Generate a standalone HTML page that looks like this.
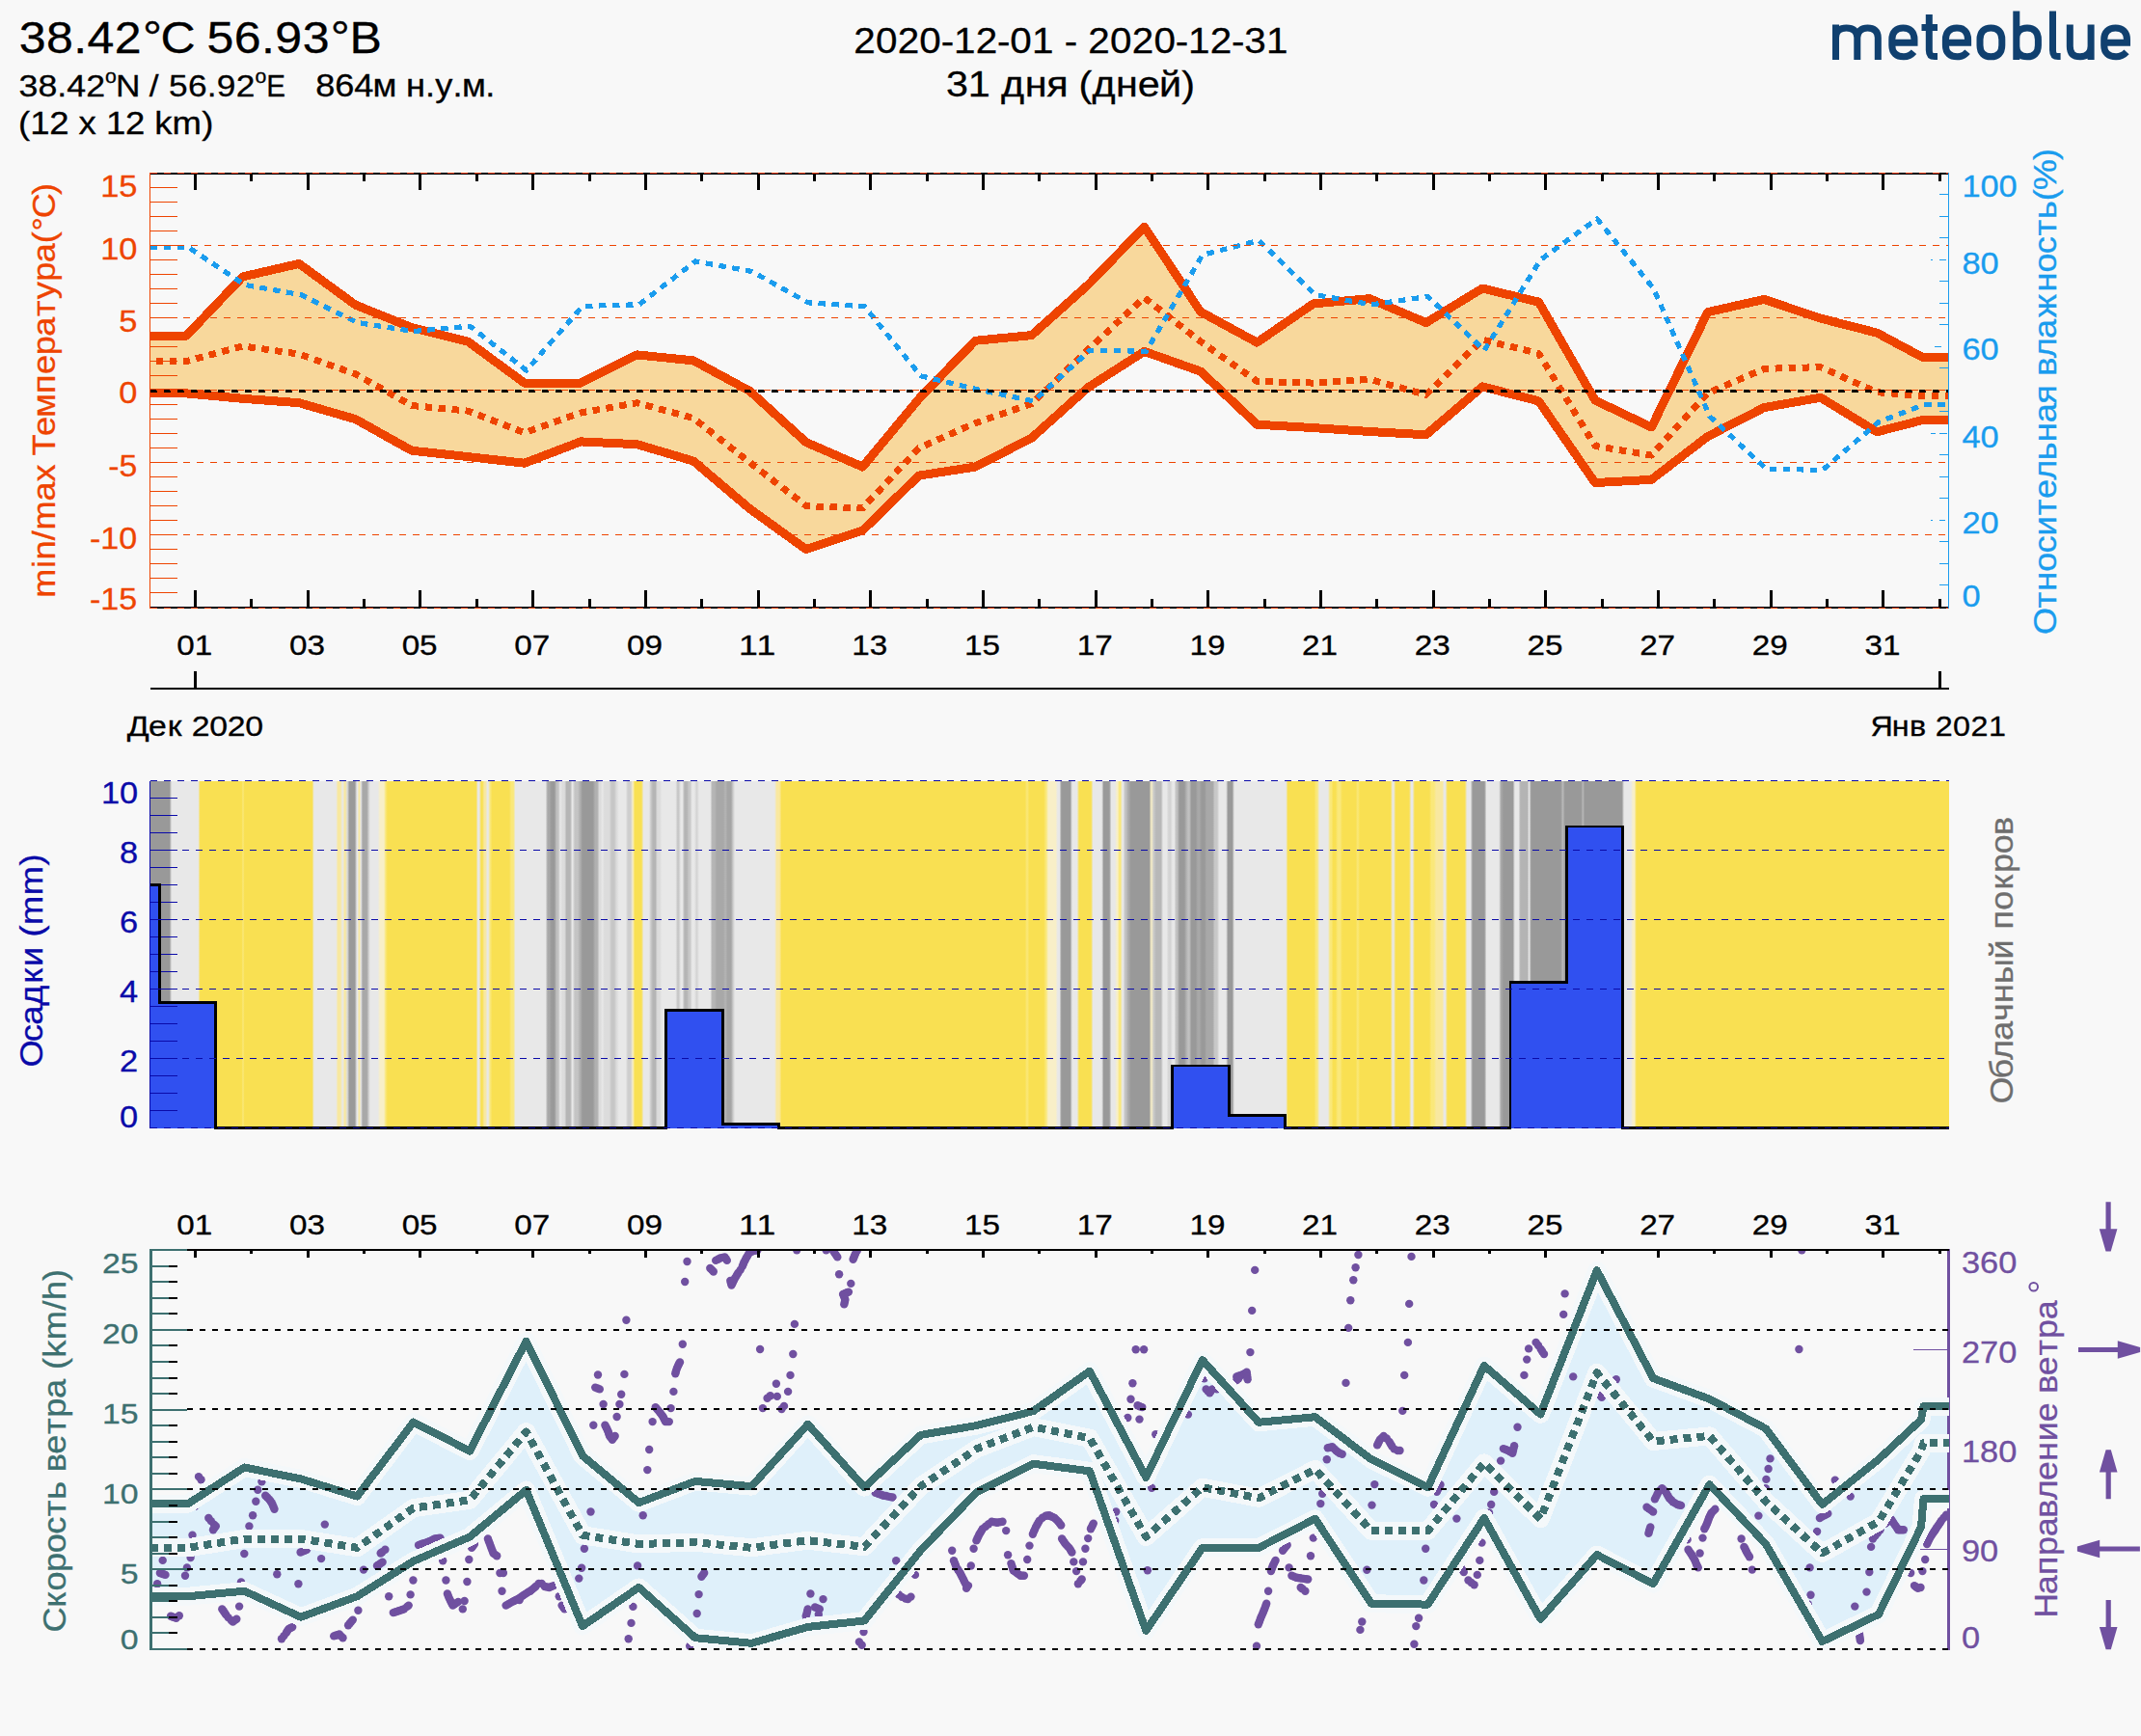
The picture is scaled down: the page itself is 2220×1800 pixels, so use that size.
<!DOCTYPE html>
<html><head><meta charset="utf-8"><title>meteoblue</title><style>html,body{margin:0;padding:0;background:#f8f8f8;}svg{display:block}svg text{font-family:"Liberation Sans",sans-serif}</style></head><body>
<svg width="2220" height="1800" viewBox="0 0 2220 1800" font-family="Liberation Sans, sans-serif" shape-rendering="crispEdges">
<rect width="2220" height="1800" fill="#f8f8f8"/>
<defs>
<clipPath id="c1"><rect x="155.5" y="179.7" width="1865.0" height="449.90000000000003"/></clipPath>
</defs>
<text transform="translate(19.5 55.2) scale(1.1032 1)" x="0.18 25.84 51.42 64.33 90.00 116.47 133.30 163.90 176.82 202.48 228.06 240.97 266.63 293.10 310.95" y="0" font-size="45.39" fill="#000" stroke="#000" stroke-width="0.3" xml:space="preserve">38.42°C 56.93°B</text>
<text transform="translate(19.5 99.8) scale(1.1188 1)" x="-0.00 17.80 35.59 44.49 62.28" y="0" font-size="31.93" fill="#000" stroke="#000" stroke-width="0.3" xml:space="preserve">38.42</text>
<text transform="translate(109.1 86.3) scale(1.0411 1)" x="0.00" y="0" font-size="20.38" fill="#000" stroke="#000" stroke-width="0.3" xml:space="preserve">o</text>
<text transform="translate(121.0 99.8) scale(1.1046 1)" x="-0.96 21.25 30.53 39.80 48.87 66.89 84.86 93.92 111.95" y="0" font-size="31.93" fill="#000" stroke="#000" stroke-width="0.3" xml:space="preserve">N / 56.92</text>
<text transform="translate(264.4 86.3) scale(1.0411 1)" x="0.00" y="0" font-size="20.38" fill="#000" stroke="#000" stroke-width="0.3" xml:space="preserve">o</text>
<text transform="translate(276.3 99.8) scale(0.9264 1)" x="0.00" y="0" font-size="31.93" fill="#000" stroke="#000" stroke-width="0.3" xml:space="preserve">E</text>
<text transform="translate(297.6 99.8) scale(1.1165 1)" x="-0.06 8.85 17.76 26.61 44.44 62.28 79.63 101.31 110.47 128.55 137.69 154.05 162.42 184.10" y="0" font-size="32.40" fill="#000" stroke="#000" stroke-width="0.3" xml:space="preserve">   864м н.у.м.</text>
<text transform="translate(19.0 138.7) scale(1.1204 1)" x="0.07 10.88 28.77 46.70 55.88 72.28 81.17 99.06 116.99 125.99 142.41 169.72" y="0" font-size="32.60" fill="#000" stroke="#000" stroke-width="0.3" xml:space="preserve">(12 x 12 km)</text>
<text transform="translate(1110.4 54.7) scale(1.1101 1)" x="-202.86 -182.39 -161.93 -141.47 -121.36 -109.40 -88.94 -68.83 -56.87 -36.41 -15.98 -6.08 5.84 16.11 36.57 57.03 77.49 97.60 109.56 130.02 150.13 162.09 182.56" y="0" font-size="36.41" fill="#000" stroke="#000" stroke-width="0.3" xml:space="preserve">2020-12-01 - 2020-12-31</text>
<text transform="translate(1110.1 99.5) scale(1.1208 1)" x="-115.18 -94.97 -74.70 -64.29 -42.36 -22.22 -2.78 7.45 20.02 41.96 62.04 82.09 102.75" y="0" font-size="36.85" fill="#000" stroke="#000" stroke-width="0.3" xml:space="preserve">31 дня (дней)</text>
<g fill="none" stroke="#10406f" stroke-width="7" shape-rendering="geometricPrecision" stroke-linejoin="miter">
<path d="M1903.5 62 V25.5 M1903.5 39 C1903.5 32 1908 28.9 1914.5 28.9 C1921.5 28.9 1925.8 32 1925.8 39 V62 M1925.8 39 C1926 32 1930.5 28.9 1936.5 28.9 C1943 28.9 1947.3 32 1947.3 39 V62"/>
<path d="M1961.8000000000002 44.3 H1985.0 V41 C1985.0 33 1980.4 28.9 1973.4 28.9 C1966.4 28.9 1961.8000000000002 33 1961.8000000000002 41 V47 C1961.8000000000002 55 1966.4 58.8 1973.9 58.8 C1978.4 58.8 1981.4 57.6 1984.5 53.8"/>
<path d="M2000.3 15 V52 C2000.3 57 2002.5 58.6 2006 58.6 H2009 M1992.5 28.6 H2009"/>
<path d="M2017.4 44.3 H2040.6 V41 C2040.6 33 2036.0 28.9 2029.0 28.9 C2022.0 28.9 2017.4 33 2017.4 41 V47 C2017.4 55 2022.0 58.8 2029.5 58.8 C2034.0 58.8 2037.0 57.6 2040.1 53.8"/>
<path d="M2064.4 28.9 C2071.4 28.9 2075.8 33 2075.8 41 V47 C2075.8 55 2071.4 58.8 2064.4 58.8 C2057.4 58.8 2053.0 55 2053.0 47 V41 C2053.0 33 2057.4 28.9 2064.4 28.9 Z"/>
<path d="M2090.8 11.6 V62 M2090.8 40 C2090.8 32.5 2095 28.9 2102 28.9 C2109 28.9 2113.4 33 2113.4 41 V47 C2113.4 55 2109 58.8 2102 58.8 C2095 58.8 2090.8 55.5 2090.8 48"/>
<path d="M2128.5 11.6 V52 C2128.5 57 2130.5 58.6 2134 58.6 H2136.6"/>
<path d="M2146.3 25.4 V48 C2146.3 55.5 2150 58.8 2157 58.8 C2164 58.8 2168.1 55 2168.1 48 M2168.1 25.4 V62"/>
<path d="M2181.7 44.3 H2205.5 V41 C2205.5 33 2200.7 28.9 2193.6 28.9 C2186.5 28.9 2181.7 33 2181.7 41 V47 C2181.7 55 2186.5 58.8 2194.1 58.8 C2198.6 58.8 2201.6 57.6 2205.0 53.8"/>
</g>
<g clip-path="url(#c1)">
<polygon points="155.5,348.2 193.2,348.2 251.6,286.9 310.1,273.4 368.5,316.1 426.9,339.7 485.3,354.2 543.8,397.1 602.2,397.1 660.6,367.9 719.1,373.9 777.5,405.5 835.9,458.6 894.4,484.1 952.8,413.6 1011.2,353.3 1069.7,347.6 1128.1,295.4 1186.5,235.1 1244.9,323.3 1303.4,355.1 1361.8,314.9 1420.2,309.7 1478.7,334.6 1537.1,299.0 1595.5,313.1 1654.0,415.1 1712.4,443.0 1770.8,323.6 1829.2,310.4 1887.7,330.1 1946.1,345.1 1993.0,370.2 2020.5,370.2 2020.5,435.7 1993.0,435.7 1946.1,447.8 1887.7,412.2 1829.2,422.6 1770.8,452.5 1712.4,497.3 1654.0,500.6 1595.5,415.9 1537.1,400.9 1478.7,450.8 1420.2,447.5 1361.8,443.6 1303.4,440.2 1244.9,385.1 1186.5,364.4 1128.1,401.8 1069.7,454.1 1011.2,484.1 952.8,493.1 894.4,550.1 835.9,569.6 777.5,527.6 719.1,478.1 660.6,460.7 602.2,457.9 543.8,480.2 485.3,473.6 426.9,467.2 368.5,434.6 310.1,417.7 251.6,413.3 193.2,407.9 155.5,407.9" fill="#f8d89c"/>
</g>
<line x1="155.5" y1="614.5" x2="184.0" y2="614.5" stroke="#ee4400" stroke-width="1"/>
<line x1="155.5" y1="599.5" x2="184.0" y2="599.5" stroke="#ee4400" stroke-width="1"/>
<line x1="155.5" y1="584.5" x2="184.0" y2="584.5" stroke="#ee4400" stroke-width="1"/>
<line x1="155.5" y1="569.5" x2="184.0" y2="569.5" stroke="#ee4400" stroke-width="1"/>
<line x1="155.5" y1="554.5" x2="184.0" y2="554.5" stroke="#ee4400" stroke-width="1"/>
<line x1="155.5" y1="539.5" x2="184.0" y2="539.5" stroke="#ee4400" stroke-width="1"/>
<line x1="155.5" y1="524.5" x2="184.0" y2="524.5" stroke="#ee4400" stroke-width="1"/>
<line x1="155.5" y1="509.5" x2="184.0" y2="509.5" stroke="#ee4400" stroke-width="1"/>
<line x1="155.5" y1="494.5" x2="184.0" y2="494.5" stroke="#ee4400" stroke-width="1"/>
<line x1="155.5" y1="479.5" x2="184.0" y2="479.5" stroke="#ee4400" stroke-width="1"/>
<line x1="155.5" y1="464.5" x2="184.0" y2="464.5" stroke="#ee4400" stroke-width="1"/>
<line x1="155.5" y1="449.5" x2="184.0" y2="449.5" stroke="#ee4400" stroke-width="1"/>
<line x1="155.5" y1="434.5" x2="184.0" y2="434.5" stroke="#ee4400" stroke-width="1"/>
<line x1="155.5" y1="419.5" x2="184.0" y2="419.5" stroke="#ee4400" stroke-width="1"/>
<line x1="155.5" y1="404.5" x2="184.0" y2="404.5" stroke="#ee4400" stroke-width="1"/>
<line x1="155.5" y1="389.5" x2="184.0" y2="389.5" stroke="#ee4400" stroke-width="1"/>
<line x1="155.5" y1="374.5" x2="184.0" y2="374.5" stroke="#ee4400" stroke-width="1"/>
<line x1="155.5" y1="359.5" x2="184.0" y2="359.5" stroke="#ee4400" stroke-width="1"/>
<line x1="155.5" y1="344.5" x2="184.0" y2="344.5" stroke="#ee4400" stroke-width="1"/>
<line x1="155.5" y1="329.5" x2="184.0" y2="329.5" stroke="#ee4400" stroke-width="1"/>
<line x1="155.5" y1="314.5" x2="184.0" y2="314.5" stroke="#ee4400" stroke-width="1"/>
<line x1="155.5" y1="299.5" x2="184.0" y2="299.5" stroke="#ee4400" stroke-width="1"/>
<line x1="155.5" y1="284.5" x2="184.0" y2="284.5" stroke="#ee4400" stroke-width="1"/>
<line x1="155.5" y1="269.5" x2="184.0" y2="269.5" stroke="#ee4400" stroke-width="1"/>
<line x1="155.5" y1="254.5" x2="184.0" y2="254.5" stroke="#ee4400" stroke-width="1"/>
<line x1="155.5" y1="239.5" x2="184.0" y2="239.5" stroke="#ee4400" stroke-width="1"/>
<line x1="155.5" y1="224.5" x2="184.0" y2="224.5" stroke="#ee4400" stroke-width="1"/>
<line x1="155.5" y1="209.5" x2="184.0" y2="209.5" stroke="#ee4400" stroke-width="1"/>
<line x1="155.5" y1="194.5" x2="184.0" y2="194.5" stroke="#ee4400" stroke-width="1"/>
<line x1="2011.0" y1="606.5" x2="2020.5" y2="606.5" stroke="#1a9cee" stroke-width="1.5"/>
<line x1="2011.0" y1="584.5" x2="2020.5" y2="584.5" stroke="#1a9cee" stroke-width="1.5"/>
<line x1="2011.0" y1="561.5" x2="2020.5" y2="561.5" stroke="#1a9cee" stroke-width="1.5"/>
<line x1="2002.0" y1="539.5" x2="2003.6" y2="539.5" stroke="#1a9cee" stroke-width="1.5"/>
<line x1="2011.1" y1="539.5" x2="2016.7" y2="539.5" stroke="#1a9cee" stroke-width="1.5"/>
<line x1="2011.0" y1="516.5" x2="2020.5" y2="516.5" stroke="#1a9cee" stroke-width="1.5"/>
<line x1="2011.0" y1="494.5" x2="2020.5" y2="494.5" stroke="#1a9cee" stroke-width="1.5"/>
<line x1="2011.0" y1="471.5" x2="2020.5" y2="471.5" stroke="#1a9cee" stroke-width="1.5"/>
<line x1="2002.4" y1="449.5" x2="2007.1" y2="449.5" stroke="#1a9cee" stroke-width="1.5"/>
<line x1="2010.8" y1="449.5" x2="2019.3" y2="449.5" stroke="#1a9cee" stroke-width="1.5"/>
<line x1="2011.0" y1="426.5" x2="2020.5" y2="426.5" stroke="#1a9cee" stroke-width="1.5"/>
<line x1="2011.0" y1="404.5" x2="2020.5" y2="404.5" stroke="#1a9cee" stroke-width="1.5"/>
<line x1="2011.0" y1="381.5" x2="2020.5" y2="381.5" stroke="#1a9cee" stroke-width="1.5"/>
<line x1="2006.2" y1="359.5" x2="2012.7" y2="359.5" stroke="#1a9cee" stroke-width="1.5"/>
<line x1="2011.0" y1="336.5" x2="2020.5" y2="336.5" stroke="#1a9cee" stroke-width="1.5"/>
<line x1="2011.0" y1="314.5" x2="2020.5" y2="314.5" stroke="#1a9cee" stroke-width="1.5"/>
<line x1="2011.0" y1="291.5" x2="2020.5" y2="291.5" stroke="#1a9cee" stroke-width="1.5"/>
<line x1="2002.0" y1="269.5" x2="2003.6" y2="269.5" stroke="#1a9cee" stroke-width="1.5"/>
<line x1="2010.8" y1="269.5" x2="2018.3" y2="269.5" stroke="#1a9cee" stroke-width="1.5"/>
<line x1="2011.0" y1="246.5" x2="2020.5" y2="246.5" stroke="#1a9cee" stroke-width="1.5"/>
<line x1="2011.0" y1="224.5" x2="2020.5" y2="224.5" stroke="#1a9cee" stroke-width="1.5"/>
<line x1="2011.0" y1="201.5" x2="2020.5" y2="201.5" stroke="#1a9cee" stroke-width="1.5"/>
<g clip-path="url(#c1)" fill="none" stroke-linejoin="round">
<polyline points="155.5,348.2 193.2,348.2 251.6,286.9 310.1,273.4 368.5,316.1 426.9,339.7 485.3,354.2 543.8,397.1 602.2,397.1 660.6,367.9 719.1,373.9 777.5,405.5 835.9,458.6 894.4,484.1 952.8,413.6 1011.2,353.3 1069.7,347.6 1128.1,295.4 1186.5,235.1 1244.9,323.3 1303.4,355.1 1361.8,314.9 1420.2,309.7 1478.7,334.6 1537.1,299.0 1595.5,313.1 1654.0,415.1 1712.4,443.0 1770.8,323.6 1829.2,310.4 1887.7,330.1 1946.1,345.1 1993.0,370.2 2020.5,370.2" stroke="#ee4400" stroke-width="9"/>
<polyline points="155.5,407.9 193.2,407.9 251.6,413.3 310.1,417.7 368.5,434.6 426.9,467.2 485.3,473.6 543.8,480.2 602.2,457.9 660.6,460.7 719.1,478.1 777.5,527.6 835.9,569.6 894.4,550.1 952.8,493.1 1011.2,484.1 1069.7,454.1 1128.1,401.8 1186.5,364.4 1244.9,385.1 1303.4,440.2 1361.8,443.6 1420.2,447.5 1478.7,450.8 1537.1,400.9 1595.5,415.9 1654.0,500.6 1712.4,497.3 1770.8,452.5 1829.2,422.6 1887.7,412.2 1946.1,447.8 1993.0,435.7 2020.5,435.7" stroke="#ee4400" stroke-width="9"/>
<polyline points="155.5,374.6 193.2,374.6 251.6,358.9 310.1,367.1 368.5,387.8 426.9,420.5 485.3,426.1 543.8,448.6 602.2,428.0 660.6,417.7 719.1,433.6 777.5,479.6 835.9,524.6 894.4,526.9 952.8,464.6 1011.2,438.7 1069.7,418.6 1128.1,362.6 1186.5,308.6 1244.9,354.2 1303.4,395.3 1361.8,397.1 1420.2,393.4 1478.7,409.2 1537.1,352.2 1595.5,366.4 1654.0,462.4 1712.4,472.1 1770.8,407.6 1829.2,382.4 1887.7,380.6 1946.1,406.7 1993.0,410.5 2020.5,410.5" stroke="#ee4400" stroke-width="7" stroke-dasharray="7.5 6.5" stroke-dashoffset="-6"/>
<polyline points="155.5,256.2 195.2,256.2 253.6,295.3 312.1,305.7 370.5,334.5 428.9,343.5 487.3,338.1 545.8,384.0 604.2,317.4 662.6,315.8 721.1,271.0 779.5,281.4 837.9,313.8 896.4,317.8 954.8,389.8 1013.2,403.8 1071.7,415.9 1130.1,363.3 1188.5,364.2 1246.9,264.3 1305.4,249.4 1363.8,305.7 1422.2,315.8 1480.7,307.5 1539.1,363.3 1597.5,269.2 1656.0,226.9 1714.4,298.9 1772.8,431.6 1831.2,486.1 1889.7,487.4 1948.1,437.5 1995.0,419.5 2020.5,419.5" stroke="#1a9cee" stroke-width="5.2" stroke-dasharray="7.5 6.5"/>
</g>
<line x1="155.5" y1="405.5" x2="2020.5" y2="405.5" stroke="#000" stroke-width="3" stroke-dasharray="7.5 6.5"/>
<line x1="155.5" y1="179.7" x2="2020.5" y2="179.7" stroke="#000" stroke-width="2"/>
<line x1="155.5" y1="629.6" x2="2020.5" y2="629.6" stroke="#000" stroke-width="2"/>
<line x1="155.5" y1="179.2" x2="2020.5" y2="179.2" stroke="#ee4400" stroke-width="1" stroke-dasharray="7 7"/>
<line x1="155.5" y1="254.5" x2="2020.5" y2="254.5" stroke="#ee4400" stroke-width="1" stroke-dasharray="7 7"/>
<line x1="161.5" y1="329.5" x2="2020.5" y2="329.5" stroke="#ee4400" stroke-width="1" stroke-dasharray="7 7"/>
<line x1="161.5" y1="404.5" x2="2020.5" y2="404.5" stroke="#ee4400" stroke-width="1" stroke-dasharray="7 7"/>
<line x1="161.5" y1="479.5" x2="2020.5" y2="479.5" stroke="#ee4400" stroke-width="1" stroke-dasharray="7 7"/>
<line x1="161.5" y1="554.5" x2="2020.5" y2="554.5" stroke="#ee4400" stroke-width="1" stroke-dasharray="7 7"/>
<line x1="155.5" y1="630.1" x2="2020.5" y2="630.1" stroke="#ee4400" stroke-width="1" stroke-dasharray="7 7"/>
<line x1="155.5" y1="178.7" x2="155.5" y2="630.6" stroke="#ee4400" stroke-width="1.2"/>
<line x1="2020.5" y1="178.7" x2="2020.5" y2="630.6" stroke="#1a9cee" stroke-width="1.6"/>
<line x1="202.6" y1="179.7" x2="202.6" y2="197.2" stroke="#000" stroke-width="3"/>
<line x1="202.6" y1="629.6" x2="202.6" y2="612.1" stroke="#000" stroke-width="3"/>
<line x1="260.9" y1="179.7" x2="260.9" y2="188.2" stroke="#000" stroke-width="3"/>
<line x1="260.9" y1="629.6" x2="260.9" y2="621.1" stroke="#000" stroke-width="3"/>
<line x1="319.3" y1="179.7" x2="319.3" y2="197.2" stroke="#000" stroke-width="3"/>
<line x1="319.3" y1="629.6" x2="319.3" y2="612.1" stroke="#000" stroke-width="3"/>
<line x1="377.6" y1="179.7" x2="377.6" y2="188.2" stroke="#000" stroke-width="3"/>
<line x1="377.6" y1="629.6" x2="377.6" y2="621.1" stroke="#000" stroke-width="3"/>
<line x1="435.9" y1="179.7" x2="435.9" y2="197.2" stroke="#000" stroke-width="3"/>
<line x1="435.9" y1="629.6" x2="435.9" y2="612.1" stroke="#000" stroke-width="3"/>
<line x1="494.3" y1="179.7" x2="494.3" y2="188.2" stroke="#000" stroke-width="3"/>
<line x1="494.3" y1="629.6" x2="494.3" y2="621.1" stroke="#000" stroke-width="3"/>
<line x1="552.6" y1="179.7" x2="552.6" y2="197.2" stroke="#000" stroke-width="3"/>
<line x1="552.6" y1="629.6" x2="552.6" y2="612.1" stroke="#000" stroke-width="3"/>
<line x1="611.0" y1="179.7" x2="611.0" y2="188.2" stroke="#000" stroke-width="3"/>
<line x1="611.0" y1="629.6" x2="611.0" y2="621.1" stroke="#000" stroke-width="3"/>
<line x1="669.3" y1="179.7" x2="669.3" y2="197.2" stroke="#000" stroke-width="3"/>
<line x1="669.3" y1="629.6" x2="669.3" y2="612.1" stroke="#000" stroke-width="3"/>
<line x1="727.6" y1="179.7" x2="727.6" y2="188.2" stroke="#000" stroke-width="3"/>
<line x1="727.6" y1="629.6" x2="727.6" y2="621.1" stroke="#000" stroke-width="3"/>
<line x1="786.0" y1="179.7" x2="786.0" y2="197.2" stroke="#000" stroke-width="3"/>
<line x1="786.0" y1="629.6" x2="786.0" y2="612.1" stroke="#000" stroke-width="3"/>
<line x1="844.3" y1="179.7" x2="844.3" y2="188.2" stroke="#000" stroke-width="3"/>
<line x1="844.3" y1="629.6" x2="844.3" y2="621.1" stroke="#000" stroke-width="3"/>
<line x1="902.6" y1="179.7" x2="902.6" y2="197.2" stroke="#000" stroke-width="3"/>
<line x1="902.6" y1="629.6" x2="902.6" y2="612.1" stroke="#000" stroke-width="3"/>
<line x1="961.0" y1="179.7" x2="961.0" y2="188.2" stroke="#000" stroke-width="3"/>
<line x1="961.0" y1="629.6" x2="961.0" y2="621.1" stroke="#000" stroke-width="3"/>
<line x1="1019.3" y1="179.7" x2="1019.3" y2="197.2" stroke="#000" stroke-width="3"/>
<line x1="1019.3" y1="629.6" x2="1019.3" y2="612.1" stroke="#000" stroke-width="3"/>
<line x1="1077.7" y1="179.7" x2="1077.7" y2="188.2" stroke="#000" stroke-width="3"/>
<line x1="1077.7" y1="629.6" x2="1077.7" y2="621.1" stroke="#000" stroke-width="3"/>
<line x1="1136.0" y1="179.7" x2="1136.0" y2="197.2" stroke="#000" stroke-width="3"/>
<line x1="1136.0" y1="629.6" x2="1136.0" y2="612.1" stroke="#000" stroke-width="3"/>
<line x1="1194.3" y1="179.7" x2="1194.3" y2="188.2" stroke="#000" stroke-width="3"/>
<line x1="1194.3" y1="629.6" x2="1194.3" y2="621.1" stroke="#000" stroke-width="3"/>
<line x1="1252.7" y1="179.7" x2="1252.7" y2="197.2" stroke="#000" stroke-width="3"/>
<line x1="1252.7" y1="629.6" x2="1252.7" y2="612.1" stroke="#000" stroke-width="3"/>
<line x1="1311.0" y1="179.7" x2="1311.0" y2="188.2" stroke="#000" stroke-width="3"/>
<line x1="1311.0" y1="629.6" x2="1311.0" y2="621.1" stroke="#000" stroke-width="3"/>
<line x1="1369.3" y1="179.7" x2="1369.3" y2="197.2" stroke="#000" stroke-width="3"/>
<line x1="1369.3" y1="629.6" x2="1369.3" y2="612.1" stroke="#000" stroke-width="3"/>
<line x1="1427.7" y1="179.7" x2="1427.7" y2="188.2" stroke="#000" stroke-width="3"/>
<line x1="1427.7" y1="629.6" x2="1427.7" y2="621.1" stroke="#000" stroke-width="3"/>
<line x1="1486.0" y1="179.7" x2="1486.0" y2="197.2" stroke="#000" stroke-width="3"/>
<line x1="1486.0" y1="629.6" x2="1486.0" y2="612.1" stroke="#000" stroke-width="3"/>
<line x1="1544.4" y1="179.7" x2="1544.4" y2="188.2" stroke="#000" stroke-width="3"/>
<line x1="1544.4" y1="629.6" x2="1544.4" y2="621.1" stroke="#000" stroke-width="3"/>
<line x1="1602.7" y1="179.7" x2="1602.7" y2="197.2" stroke="#000" stroke-width="3"/>
<line x1="1602.7" y1="629.6" x2="1602.7" y2="612.1" stroke="#000" stroke-width="3"/>
<line x1="1661.0" y1="179.7" x2="1661.0" y2="188.2" stroke="#000" stroke-width="3"/>
<line x1="1661.0" y1="629.6" x2="1661.0" y2="621.1" stroke="#000" stroke-width="3"/>
<line x1="1719.4" y1="179.7" x2="1719.4" y2="197.2" stroke="#000" stroke-width="3"/>
<line x1="1719.4" y1="629.6" x2="1719.4" y2="612.1" stroke="#000" stroke-width="3"/>
<line x1="1777.7" y1="179.7" x2="1777.7" y2="188.2" stroke="#000" stroke-width="3"/>
<line x1="1777.7" y1="629.6" x2="1777.7" y2="621.1" stroke="#000" stroke-width="3"/>
<line x1="1836.0" y1="179.7" x2="1836.0" y2="197.2" stroke="#000" stroke-width="3"/>
<line x1="1836.0" y1="629.6" x2="1836.0" y2="612.1" stroke="#000" stroke-width="3"/>
<line x1="1894.4" y1="179.7" x2="1894.4" y2="188.2" stroke="#000" stroke-width="3"/>
<line x1="1894.4" y1="629.6" x2="1894.4" y2="621.1" stroke="#000" stroke-width="3"/>
<line x1="1952.7" y1="179.7" x2="1952.7" y2="197.2" stroke="#000" stroke-width="3"/>
<line x1="1952.7" y1="629.6" x2="1952.7" y2="612.1" stroke="#000" stroke-width="3"/>
<line x1="2011.0" y1="179.7" x2="2011.0" y2="188.2" stroke="#000" stroke-width="3"/>
<line x1="2011.0" y1="629.6" x2="2011.0" y2="621.1" stroke="#000" stroke-width="3"/>
<text transform="translate(201.8 679.3) scale(1.1245 1)" x="-16.41 0.00" y="0" font-size="29.58" fill="#000" stroke="#000" stroke-width="0.3" xml:space="preserve">01</text>
<text transform="translate(318.5 679.3) scale(1.1245 1)" x="-16.41 0.00" y="0" font-size="29.58" fill="#000" stroke="#000" stroke-width="0.3" xml:space="preserve">03</text>
<text transform="translate(435.1 679.3) scale(1.1245 1)" x="-16.41 0.00" y="0" font-size="29.58" fill="#000" stroke="#000" stroke-width="0.3" xml:space="preserve">05</text>
<text transform="translate(551.8 679.3) scale(1.1245 1)" x="-16.41 0.00" y="0" font-size="29.58" fill="#000" stroke="#000" stroke-width="0.3" xml:space="preserve">07</text>
<text transform="translate(668.5 679.3) scale(1.1245 1)" x="-16.41 0.00" y="0" font-size="29.58" fill="#000" stroke="#000" stroke-width="0.3" xml:space="preserve">09</text>
<text transform="translate(785.2 679.3) scale(1.2048 1)" x="-15.86 -0.55" y="0" font-size="29.58" fill="#000" stroke="#000" stroke-width="0.3" xml:space="preserve">11</text>
<text transform="translate(901.8 679.3) scale(1.1245 1)" x="-16.41 0.00" y="0" font-size="29.58" fill="#000" stroke="#000" stroke-width="0.3" xml:space="preserve">13</text>
<text transform="translate(1018.5 679.3) scale(1.1245 1)" x="-16.41 0.00" y="0" font-size="29.58" fill="#000" stroke="#000" stroke-width="0.3" xml:space="preserve">15</text>
<text transform="translate(1135.2 679.3) scale(1.1245 1)" x="-16.41 0.00" y="0" font-size="29.58" fill="#000" stroke="#000" stroke-width="0.3" xml:space="preserve">17</text>
<text transform="translate(1251.9 679.3) scale(1.1245 1)" x="-16.41 0.00" y="0" font-size="29.58" fill="#000" stroke="#000" stroke-width="0.3" xml:space="preserve">19</text>
<text transform="translate(1368.5 679.3) scale(1.1245 1)" x="-16.41 0.00" y="0" font-size="29.58" fill="#000" stroke="#000" stroke-width="0.3" xml:space="preserve">21</text>
<text transform="translate(1485.2 679.3) scale(1.1245 1)" x="-16.41 0.00" y="0" font-size="29.58" fill="#000" stroke="#000" stroke-width="0.3" xml:space="preserve">23</text>
<text transform="translate(1601.9 679.3) scale(1.1245 1)" x="-16.41 0.00" y="0" font-size="29.58" fill="#000" stroke="#000" stroke-width="0.3" xml:space="preserve">25</text>
<text transform="translate(1718.6 679.3) scale(1.1245 1)" x="-16.41 0.00" y="0" font-size="29.58" fill="#000" stroke="#000" stroke-width="0.3" xml:space="preserve">27</text>
<text transform="translate(1835.2 679.3) scale(1.1245 1)" x="-16.41 0.00" y="0" font-size="29.58" fill="#000" stroke="#000" stroke-width="0.3" xml:space="preserve">29</text>
<text transform="translate(1951.9 679.3) scale(1.1245 1)" x="-16.41 0.00" y="0" font-size="29.58" fill="#000" stroke="#000" stroke-width="0.3" xml:space="preserve">31</text>
<line x1="155.5" y1="713.5" x2="2020.5" y2="713.5" stroke="#000" stroke-width="2"/>
<line x1="202.6" y1="696" x2="202.6" y2="713.5" stroke="#000" stroke-width="3"/>
<line x1="2011.0" y1="696" x2="2011.0" y2="713.5" stroke="#000" stroke-width="3"/>
<text transform="translate(202.3 762.5) scale(1.1265 1)" x="-62.70 -42.91 -25.43 -11.17 -3.07 13.31 29.69 46.07" y="0" font-size="30.01" fill="#000" stroke="#000" stroke-width="0.3" xml:space="preserve">Дек 2020</text>
<text transform="translate(2010.6 762.5) scale(1.0772 1)" x="-66.10 -45.40 -28.35 -12.34 -3.67 13.46 30.59 47.71" y="0" font-size="30.01" fill="#000" stroke="#000" stroke-width="0.3" xml:space="preserve">Янв 2021</text>
<text transform="translate(142.3 203.9) scale(1.1253 1)" x="-33.92 -16.96" y="0" font-size="30.60" fill="#ee4400" stroke="#ee4400" stroke-width="0.3" xml:space="preserve">15</text>
<text transform="translate(142.3 268.7) scale(1.1253 1)" x="-33.92 -16.96" y="0" font-size="30.60" fill="#ee4400" stroke="#ee4400" stroke-width="0.3" xml:space="preserve">10</text>
<text transform="translate(142.3 343.5) scale(1.1253 1)" x="-16.96" y="0" font-size="30.60" fill="#ee4400" stroke="#ee4400" stroke-width="0.3" xml:space="preserve">5</text>
<text transform="translate(142.3 417.9) scale(1.1253 1)" x="-16.96" y="0" font-size="30.60" fill="#ee4400" stroke="#ee4400" stroke-width="0.3" xml:space="preserve">0</text>
<text transform="translate(142.3 494.2) scale(1.1030 1)" x="-27.29 -17.13" y="0" font-size="30.60" fill="#ee4400" stroke="#ee4400" stroke-width="0.3" xml:space="preserve">-5</text>
<text transform="translate(142.3 568.5) scale(1.1116 1)" x="-44.29 -34.24 -17.07" y="0" font-size="30.60" fill="#ee4400" stroke="#ee4400" stroke-width="0.3" xml:space="preserve">-10</text>
<text transform="translate(142.3 632.4) scale(1.1116 1)" x="-44.29 -34.24 -17.07" y="0" font-size="30.60" fill="#ee4400" stroke="#ee4400" stroke-width="0.3" xml:space="preserve">-15</text>
<text transform="translate(2034.4 204.4) scale(1.1253 1)" x="0.00 16.96 33.92" y="0" font-size="30.60" fill="#1a9cee" stroke="#1a9cee" stroke-width="0.3" xml:space="preserve">100</text>
<text transform="translate(2034.4 283.7) scale(1.1253 1)" x="0.00 16.96" y="0" font-size="30.60" fill="#1a9cee" stroke="#1a9cee" stroke-width="0.3" xml:space="preserve">80</text>
<text transform="translate(2034.4 373.3) scale(1.1253 1)" x="0.00 16.96" y="0" font-size="30.60" fill="#1a9cee" stroke="#1a9cee" stroke-width="0.3" xml:space="preserve">60</text>
<text transform="translate(2034.4 463.5) scale(1.1253 1)" x="0.00 16.96" y="0" font-size="30.60" fill="#1a9cee" stroke="#1a9cee" stroke-width="0.3" xml:space="preserve">40</text>
<text transform="translate(2034.4 553.0) scale(1.1253 1)" x="0.00 16.96" y="0" font-size="30.60" fill="#1a9cee" stroke="#1a9cee" stroke-width="0.3" xml:space="preserve">20</text>
<text transform="translate(2034.4 628.6) scale(1.1253 1)" x="0.00" y="0" font-size="30.60" fill="#1a9cee" stroke="#1a9cee" stroke-width="0.3" xml:space="preserve">0</text>
<text transform="translate(56.5 405.0) rotate(-90) scale(1.1039 1)" x="-194.58 -166.66 -159.08 -140.63 -130.96 -103.72 -85.56 -68.90 -61.06 -42.62 -25.17 -2.62 15.30 33.19 51.05 69.76 85.88 102.51 120.37 138.38 150.02 161.89 183.84" y="0" font-size="32.71" fill="#ee4400" stroke="#ee4400" stroke-width="0.3" xml:space="preserve">min/max Температура(°C)</text>
<text transform="translate(2132.0 405.0) rotate(-90) scale(1.1070 1)" x="-228.53 -203.75 -187.65 -169.65 -152.15 -135.98 -116.75 -101.26 -83.81 -65.25 -48.02 -30.00 -12.43 5.01 13.80 30.48 48.80 68.55 92.65 110.65 128.15 145.00 160.69 177.75 187.77 216.01" y="0" font-size="32.71" fill="#1a9cee" stroke="#1a9cee" stroke-width="0.3" xml:space="preserve">Относительная влажность(%)</text>
<defs><linearGradient id="cl" gradientUnits="userSpaceOnUse" x1="155.5" y1="0" x2="2020.5" y2="0">
<stop offset="0.0000%" stop-color="#999999"/><stop offset="1.0885%" stop-color="#999999"/>
<stop offset="1.2064%" stop-color="#e8e8e8"/><stop offset="2.6756%" stop-color="#e8e8e8"/>
<stop offset="2.7936%" stop-color="#f9e052"/><stop offset="5.0885%" stop-color="#f9e052"/>
<stop offset="5.1743%" stop-color="#fae87a"/><stop offset="5.1743%" stop-color="#fae87a"/>
<stop offset="5.2601%" stop-color="#f9e052"/><stop offset="9.0080%" stop-color="#f9e052"/>
<stop offset="9.1260%" stop-color="#e8e8e8"/><stop offset="10.3378%" stop-color="#e8e8e8"/>
<stop offset="10.4558%" stop-color="#f8e8a0"/><stop offset="10.5845%" stop-color="#f8e8a0"/>
<stop offset="10.7024%" stop-color="#e8e8e8"/><stop offset="10.7131%" stop-color="#e8e8e8"/>
<stop offset="10.8311%" stop-color="#f8e8a0"/><stop offset="10.8525%" stop-color="#f8e8a0"/>
<stop offset="10.9705%" stop-color="#dcdcdc"/><stop offset="10.9705%" stop-color="#dcdcdc"/>
<stop offset="11.0885%" stop-color="#999999"/><stop offset="11.3887%" stop-color="#999999"/>
<stop offset="11.5067%" stop-color="#e8e8e8"/><stop offset="11.5335%" stop-color="#e8e8e8"/>
<stop offset="11.6381%" stop-color="#f8e8a0"/><stop offset="11.6381%" stop-color="#f8e8a0"/>
<stop offset="11.7239%" stop-color="#e8e8e8"/><stop offset="11.7239%" stop-color="#e8e8e8"/>
<stop offset="11.8231%" stop-color="#a8a8a8"/><stop offset="12.0590%" stop-color="#a8a8a8"/>
<stop offset="12.1528%" stop-color="#cccccc"/><stop offset="12.1528%" stop-color="#cccccc"/>
<stop offset="12.2466%" stop-color="#e8e8e8"/><stop offset="12.6756%" stop-color="#e8e8e8"/>
<stop offset="12.7936%" stop-color="#f8efc8"/><stop offset="13.0027%" stop-color="#f8efc8"/>
<stop offset="13.1072%" stop-color="#fae87a"/><stop offset="13.1072%" stop-color="#fae87a"/>
<stop offset="13.2118%" stop-color="#f9e052"/><stop offset="18.1233%" stop-color="#f9e052"/>
<stop offset="18.2413%" stop-color="#e8e8e8"/><stop offset="18.3003%" stop-color="#e8e8e8"/>
<stop offset="18.4182%" stop-color="#f9e052"/><stop offset="18.4718%" stop-color="#f9e052"/>
<stop offset="18.5898%" stop-color="#f8e8a0"/><stop offset="18.6488%" stop-color="#f8e8a0"/>
<stop offset="18.7668%" stop-color="#e8e8e8"/><stop offset="18.8043%" stop-color="#e8e8e8"/>
<stop offset="18.9196%" stop-color="#fae87a"/><stop offset="18.9196%" stop-color="#fae87a"/>
<stop offset="19.0349%" stop-color="#f9e052"/><stop offset="19.9678%" stop-color="#f9e052"/>
<stop offset="20.0858%" stop-color="#fae87a"/><stop offset="20.2038%" stop-color="#fae87a"/>
<stop offset="20.3217%" stop-color="#e8e8e8"/><stop offset="21.9946%" stop-color="#e8e8e8"/>
<stop offset="22.1126%" stop-color="#a8a8a8"/><stop offset="22.2038%" stop-color="#a8a8a8"/>
<stop offset="22.3217%" stop-color="#999999"/><stop offset="22.4879%" stop-color="#999999"/>
<stop offset="22.6059%" stop-color="#c0c0c0"/><stop offset="22.6971%" stop-color="#c0c0c0"/>
<stop offset="22.8097%" stop-color="#e8e8e8"/><stop offset="22.8097%" stop-color="#e8e8e8"/>
<stop offset="22.9223%" stop-color="#dcdcdc"/><stop offset="23.0456%" stop-color="#dcdcdc"/>
<stop offset="23.1635%" stop-color="#b5b5b5"/><stop offset="23.3619%" stop-color="#b5b5b5"/>
<stop offset="23.4799%" stop-color="#e8e8e8"/><stop offset="23.5013%" stop-color="#e8e8e8"/>
<stop offset="23.6193%" stop-color="#c4c4c4"/><stop offset="23.7855%" stop-color="#c4c4c4"/>
<stop offset="23.9035%" stop-color="#b0b0b0"/><stop offset="23.9249%" stop-color="#b0b0b0"/>
<stop offset="24.0429%" stop-color="#999999"/><stop offset="24.6273%" stop-color="#999999"/>
<stop offset="24.7453%" stop-color="#b0b0b0"/><stop offset="24.8686%" stop-color="#b0b0b0"/>
<stop offset="24.9866%" stop-color="#dcdcdc"/><stop offset="25.0456%" stop-color="#dcdcdc"/>
<stop offset="25.1582%" stop-color="#e8e8e8"/><stop offset="25.1582%" stop-color="#e8e8e8"/>
<stop offset="25.2708%" stop-color="#dcdcdc"/><stop offset="25.5389%" stop-color="#dcdcdc"/>
<stop offset="25.6568%" stop-color="#c6c6c6"/><stop offset="25.8177%" stop-color="#c6c6c6"/>
<stop offset="25.9357%" stop-color="#dcdcdc"/><stop offset="25.9571%" stop-color="#dcdcdc"/>
<stop offset="26.0751%" stop-color="#e8e8e8"/><stop offset="26.4504%" stop-color="#e8e8e8"/>
<stop offset="26.5684%" stop-color="#cecece"/><stop offset="26.7292%" stop-color="#cecece"/>
<stop offset="26.8418%" stop-color="#f8efc8"/><stop offset="26.8418%" stop-color="#f8efc8"/>
<stop offset="26.9544%" stop-color="#f9e052"/><stop offset="27.3244%" stop-color="#f9e052"/>
<stop offset="27.4424%" stop-color="#e8e8e8"/><stop offset="27.7480%" stop-color="#e8e8e8"/>
<stop offset="27.8579%" stop-color="#c8c8c8"/><stop offset="27.8579%" stop-color="#c8c8c8"/>
<stop offset="27.9678%" stop-color="#b5b5b5"/><stop offset="28.0965%" stop-color="#b5b5b5"/>
<stop offset="28.2145%" stop-color="#dcdcdc"/><stop offset="28.3432%" stop-color="#dcdcdc"/>
<stop offset="28.4611%" stop-color="#e8e8e8"/><stop offset="29.2172%" stop-color="#e8e8e8"/>
<stop offset="29.3351%" stop-color="#c8c8c8"/><stop offset="29.3941%" stop-color="#c8c8c8"/>
<stop offset="29.5121%" stop-color="#e8e8e8"/><stop offset="29.6032%" stop-color="#e8e8e8"/>
<stop offset="29.7212%" stop-color="#b5b5b5"/><stop offset="29.8499%" stop-color="#b5b5b5"/>
<stop offset="29.9678%" stop-color="#c8c8c8"/><stop offset="30.0268%" stop-color="#c8c8c8"/>
<stop offset="30.1448%" stop-color="#e8e8e8"/><stop offset="30.2681%" stop-color="#e8e8e8"/>
<stop offset="30.3861%" stop-color="#d4d4d4"/><stop offset="30.4129%" stop-color="#d4d4d4"/>
<stop offset="30.5308%" stop-color="#e8e8e8"/><stop offset="31.1475%" stop-color="#e8e8e8"/>
<stop offset="31.2654%" stop-color="#b5b5b5"/><stop offset="31.3941%" stop-color="#b5b5b5"/>
<stop offset="31.5121%" stop-color="#a8a8a8"/><stop offset="31.8820%" stop-color="#a8a8a8"/>
<stop offset="31.9946%" stop-color="#b5b5b5"/><stop offset="31.9946%" stop-color="#b5b5b5"/>
<stop offset="32.1072%" stop-color="#a5a5a5"/><stop offset="32.3056%" stop-color="#a5a5a5"/>
<stop offset="32.4155%" stop-color="#cccccc"/><stop offset="32.4155%" stop-color="#cccccc"/>
<stop offset="32.5255%" stop-color="#e8e8e8"/><stop offset="34.7239%" stop-color="#e8e8e8"/>
<stop offset="34.8418%" stop-color="#fae8a0"/><stop offset="34.9973%" stop-color="#fae8a0"/>
<stop offset="35.1153%" stop-color="#f9e052"/><stop offset="48.6488%" stop-color="#f9e052"/>
<stop offset="48.7668%" stop-color="#fae87a"/><stop offset="48.7721%" stop-color="#fae87a"/>
<stop offset="48.8901%" stop-color="#f9e052"/><stop offset="49.6890%" stop-color="#f9e052"/>
<stop offset="49.8070%" stop-color="#fae87a"/><stop offset="49.8284%" stop-color="#fae87a"/>
<stop offset="49.9464%" stop-color="#f8efc8"/><stop offset="50.3539%" stop-color="#f8efc8"/>
<stop offset="50.4718%" stop-color="#e8e8e8"/><stop offset="50.5630%" stop-color="#e8e8e8"/>
<stop offset="50.6810%" stop-color="#999999"/><stop offset="51.1582%" stop-color="#999999"/>
<stop offset="51.2761%" stop-color="#e8e8e8"/><stop offset="51.5442%" stop-color="#e8e8e8"/>
<stop offset="51.6622%" stop-color="#f9e052"/><stop offset="52.3164%" stop-color="#f9e052"/>
<stop offset="52.4343%" stop-color="#e8e8e8"/><stop offset="52.9115%" stop-color="#e8e8e8"/>
<stop offset="53.0295%" stop-color="#999999"/><stop offset="53.3351%" stop-color="#999999"/>
<stop offset="53.4531%" stop-color="#e8e8e8"/><stop offset="53.6515%" stop-color="#e8e8e8"/>
<stop offset="53.7694%" stop-color="#f8efc8"/><stop offset="53.7909%" stop-color="#f8efc8"/>
<stop offset="53.9088%" stop-color="#fae87a"/><stop offset="53.9464%" stop-color="#fae87a"/>
<stop offset="54.0643%" stop-color="#e8e8e8"/><stop offset="54.1072%" stop-color="#e8e8e8"/>
<stop offset="54.2252%" stop-color="#c0c0c0"/><stop offset="54.2788%" stop-color="#c0c0c0"/>
<stop offset="54.3968%" stop-color="#a8a8a8"/><stop offset="54.4236%" stop-color="#a8a8a8"/>
<stop offset="54.5416%" stop-color="#999999"/><stop offset="55.5550%" stop-color="#999999"/>
<stop offset="55.6729%" stop-color="#f8efc8"/><stop offset="55.6836%" stop-color="#f8efc8"/>
<stop offset="55.8016%" stop-color="#c8c8c8"/><stop offset="55.8231%" stop-color="#c8c8c8"/>
<stop offset="55.9410%" stop-color="#b8b8b8"/><stop offset="56.2091%" stop-color="#b8b8b8"/>
<stop offset="56.3271%" stop-color="#e8e8e8"/><stop offset="56.5255%" stop-color="#e8e8e8"/>
<stop offset="56.6434%" stop-color="#d4d4d4"/><stop offset="56.7346%" stop-color="#d4d4d4"/>
<stop offset="56.8525%" stop-color="#e8e8e8"/><stop offset="56.9437%" stop-color="#e8e8e8"/>
<stop offset="57.0617%" stop-color="#c0c0c0"/><stop offset="57.1206%" stop-color="#c0c0c0"/>
<stop offset="57.2386%" stop-color="#999999"/><stop offset="57.5067%" stop-color="#999999"/>
<stop offset="57.6166%" stop-color="#b0b0b0"/><stop offset="57.6166%" stop-color="#b0b0b0"/>
<stop offset="57.7265%" stop-color="#c0c0c0"/><stop offset="57.7855%" stop-color="#c0c0c0"/>
<stop offset="57.9035%" stop-color="#999999"/><stop offset="58.1394%" stop-color="#999999"/>
<stop offset="58.2574%" stop-color="#a8a8a8"/><stop offset="58.3485%" stop-color="#a8a8a8"/>
<stop offset="58.4665%" stop-color="#999999"/><stop offset="58.6273%" stop-color="#999999"/>
<stop offset="58.7453%" stop-color="#a8a8a8"/><stop offset="59.0831%" stop-color="#a8a8a8"/>
<stop offset="59.2011%" stop-color="#c8c8c8"/><stop offset="59.3298%" stop-color="#c8c8c8"/>
<stop offset="59.4477%" stop-color="#e8e8e8"/><stop offset="59.8231%" stop-color="#e8e8e8"/>
<stop offset="59.9410%" stop-color="#999999"/><stop offset="60.1716%" stop-color="#999999"/>
<stop offset="60.2895%" stop-color="#e8e8e8"/><stop offset="63.1528%" stop-color="#e8e8e8"/>
<stop offset="63.2708%" stop-color="#f9e052"/><stop offset="64.7239%" stop-color="#f9e052"/>
<stop offset="64.8418%" stop-color="#fae87a"/><stop offset="64.9008%" stop-color="#fae87a"/>
<stop offset="65.0188%" stop-color="#e8e8e8"/><stop offset="65.4960%" stop-color="#e8e8e8"/>
<stop offset="65.6139%" stop-color="#fae87a"/><stop offset="65.6729%" stop-color="#fae87a"/>
<stop offset="65.7909%" stop-color="#f9e052"/><stop offset="65.9196%" stop-color="#f9e052"/>
<stop offset="66.0375%" stop-color="#fae87a"/><stop offset="66.1769%" stop-color="#fae87a"/>
<stop offset="66.2949%" stop-color="#f9e052"/><stop offset="67.0402%" stop-color="#f9e052"/>
<stop offset="67.1528%" stop-color="#fae87a"/><stop offset="67.1528%" stop-color="#fae87a"/>
<stop offset="67.2654%" stop-color="#f9e052"/><stop offset="68.9705%" stop-color="#f9e052"/>
<stop offset="69.0885%" stop-color="#e8e8e8"/><stop offset="69.1421%" stop-color="#e8e8e8"/>
<stop offset="69.2601%" stop-color="#f9e052"/><stop offset="70.0054%" stop-color="#f9e052"/>
<stop offset="70.1233%" stop-color="#e8e8e8"/><stop offset="70.1984%" stop-color="#e8e8e8"/>
<stop offset="70.3164%" stop-color="#f9e052"/><stop offset="71.1260%" stop-color="#f9e052"/>
<stop offset="71.2440%" stop-color="#fae87a"/><stop offset="71.3887%" stop-color="#fae87a"/>
<stop offset="71.5067%" stop-color="#f8e8a0"/><stop offset="71.8445%" stop-color="#f8e8a0"/>
<stop offset="71.9625%" stop-color="#e8e8e8"/><stop offset="72.0214%" stop-color="#e8e8e8"/>
<stop offset="72.1394%" stop-color="#f9e052"/><stop offset="73.1046%" stop-color="#f9e052"/>
<stop offset="73.2225%" stop-color="#e8e8e8"/><stop offset="73.4209%" stop-color="#e8e8e8"/>
<stop offset="73.5389%" stop-color="#999999"/><stop offset="74.1930%" stop-color="#999999"/>
<stop offset="74.3110%" stop-color="#e8e8e8"/><stop offset="74.9973%" stop-color="#e8e8e8"/>
<stop offset="75.1153%" stop-color="#a8a8a8"/><stop offset="75.1367%" stop-color="#a8a8a8"/>
<stop offset="75.2547%" stop-color="#999999"/><stop offset="75.7694%" stop-color="#999999"/>
<stop offset="75.8874%" stop-color="#e8e8e8"/><stop offset="76.0858%" stop-color="#e8e8e8"/>
<stop offset="76.2038%" stop-color="#b4b4b4"/><stop offset="76.5791%" stop-color="#b4b4b4"/>
<stop offset="76.6863%" stop-color="#e8e8e8"/><stop offset="76.6863%" stop-color="#e8e8e8"/>
<stop offset="76.7936%" stop-color="#999999"/><stop offset="78.4290%" stop-color="#999999"/>
<stop offset="78.5469%" stop-color="#b8b8b8"/><stop offset="78.5523%" stop-color="#b8b8b8"/>
<stop offset="78.6702%" stop-color="#999999"/><stop offset="79.5657%" stop-color="#999999"/>
<stop offset="79.6649%" stop-color="#b8b8b8"/><stop offset="79.6649%" stop-color="#b8b8b8"/>
<stop offset="79.7641%" stop-color="#999999"/><stop offset="81.8391%" stop-color="#999999"/>
<stop offset="81.9571%" stop-color="#e8e8e8"/><stop offset="82.3378%" stop-color="#e8e8e8"/>
<stop offset="82.4558%" stop-color="#f8efc8"/><stop offset="82.5308%" stop-color="#f8efc8"/>
<stop offset="82.6488%" stop-color="#f9e052"/><stop offset="100.0000%" stop-color="#f9e052"/>
</linearGradient></defs>
<rect x="155.5" y="809.6" width="1865.0" height="360.19999999999993" fill="url(#cl)"/>
<line x1="155.5" y1="809.6" x2="155.5" y2="1169.8" stroke="#0a0aa8" stroke-width="1"/>
<rect x="155.5" y="917.8" width="9.9" height="252.0" fill="#3050f0"/>
<rect x="165.4" y="1039.5" width="58.3" height="130.3" fill="#3050f0"/>
<rect x="690.4" y="1047.8" width="59.1" height="122.0" fill="#3050f0"/>
<rect x="749.5" y="1165.8" width="58.3" height="4.0" fill="#3050f0"/>
<rect x="1215.5" y="1105.0" width="59.0" height="64.8" fill="#3050f0"/>
<rect x="1274.5" y="1156.1" width="58.0" height="13.7" fill="#3050f0"/>
<rect x="1566.0" y="1018.6" width="58.3" height="151.2" fill="#3050f0"/>
<rect x="1624.3" y="857.0" width="58.3" height="312.8" fill="#3050f0"/>
<line x1="155.5" y1="1151.5" x2="183.5" y2="1151.5" stroke="#0a0aa8" stroke-width="1"/>
<line x1="155.5" y1="1133.5" x2="183.5" y2="1133.5" stroke="#0a0aa8" stroke-width="1"/>
<line x1="155.5" y1="1115.5" x2="183.5" y2="1115.5" stroke="#0a0aa8" stroke-width="1"/>
<line x1="155.5" y1="1097.5" x2="183.5" y2="1097.5" stroke="#0a0aa8" stroke-width="1"/>
<line x1="155.5" y1="1079.5" x2="183.5" y2="1079.5" stroke="#0a0aa8" stroke-width="1"/>
<line x1="155.5" y1="1061.5" x2="183.5" y2="1061.5" stroke="#0a0aa8" stroke-width="1"/>
<line x1="155.5" y1="1043.5" x2="183.5" y2="1043.5" stroke="#0a0aa8" stroke-width="1"/>
<line x1="155.5" y1="1025.5" x2="183.5" y2="1025.5" stroke="#0a0aa8" stroke-width="1"/>
<line x1="155.5" y1="1007.5" x2="183.5" y2="1007.5" stroke="#0a0aa8" stroke-width="1"/>
<line x1="155.5" y1="989.5" x2="183.5" y2="989.5" stroke="#0a0aa8" stroke-width="1"/>
<line x1="155.5" y1="971.5" x2="183.5" y2="971.5" stroke="#0a0aa8" stroke-width="1"/>
<line x1="155.5" y1="953.5" x2="183.5" y2="953.5" stroke="#0a0aa8" stroke-width="1"/>
<line x1="155.5" y1="935.5" x2="183.5" y2="935.5" stroke="#0a0aa8" stroke-width="1"/>
<line x1="155.5" y1="917.5" x2="183.5" y2="917.5" stroke="#0a0aa8" stroke-width="1"/>
<line x1="155.5" y1="899.5" x2="183.5" y2="899.5" stroke="#0a0aa8" stroke-width="1"/>
<line x1="155.5" y1="881.5" x2="183.5" y2="881.5" stroke="#0a0aa8" stroke-width="1"/>
<line x1="155.5" y1="863.5" x2="183.5" y2="863.5" stroke="#0a0aa8" stroke-width="1"/>
<line x1="155.5" y1="845.5" x2="183.5" y2="845.5" stroke="#0a0aa8" stroke-width="1"/>
<line x1="155.5" y1="827.5" x2="183.5" y2="827.5" stroke="#0a0aa8" stroke-width="1"/>
<path d="M155.5 917.8 H165.4 V1039.5 H223.7 V1169.8 H690.4 V1047.8 H749.5 V1165.8 H807.8 V1169.8 H1215.5 V1105.0 H1274.5 V1156.1 H1332.5 V1169.8 H1566.0 V1018.6 H1624.3 V857.0 H1682.6 V1169.8 H2020.5" fill="none" stroke="#000" stroke-width="2.8" stroke-linejoin="miter"/>
<line x1="155.5" y1="809.5" x2="2020.5" y2="809.5" stroke="#0a0aa8" stroke-width="1" stroke-dasharray="7 7"/>
<line x1="160.5" y1="881.5" x2="2020.5" y2="881.5" stroke="#0a0aa8" stroke-width="1" stroke-dasharray="7 7"/>
<line x1="160.5" y1="953.5" x2="2020.5" y2="953.5" stroke="#0a0aa8" stroke-width="1" stroke-dasharray="7 7"/>
<line x1="160.5" y1="1025.5" x2="2020.5" y2="1025.5" stroke="#0a0aa8" stroke-width="1" stroke-dasharray="7 7"/>
<line x1="160.5" y1="1097.5" x2="2020.5" y2="1097.5" stroke="#0a0aa8" stroke-width="1" stroke-dasharray="7 7"/>
<line x1="155.5" y1="1169.5" x2="2020.5" y2="1169.5" stroke="#0a0aa8" stroke-width="1" stroke-dasharray="7 7"/>
<text transform="translate(143.2 833.4) scale(1.1253 1)" x="-33.92 -16.96" y="0" font-size="30.60" fill="#0a0aa8" stroke="#0a0aa8" stroke-width="0.3" xml:space="preserve">10</text>
<text transform="translate(143.2 895.0) scale(1.1253 1)" x="-16.96" y="0" font-size="30.60" fill="#0a0aa8" stroke="#0a0aa8" stroke-width="0.3" xml:space="preserve">8</text>
<text transform="translate(143.2 967.0) scale(1.1253 1)" x="-16.96" y="0" font-size="30.60" fill="#0a0aa8" stroke="#0a0aa8" stroke-width="0.3" xml:space="preserve">6</text>
<text transform="translate(143.2 1039.0) scale(1.1253 1)" x="-16.96" y="0" font-size="30.60" fill="#0a0aa8" stroke="#0a0aa8" stroke-width="0.3" xml:space="preserve">4</text>
<text transform="translate(143.2 1111.0) scale(1.1253 1)" x="-16.96" y="0" font-size="30.60" fill="#0a0aa8" stroke="#0a0aa8" stroke-width="0.3" xml:space="preserve">2</text>
<text transform="translate(143.2 1169.2) scale(1.1253 1)" x="-16.96" y="0" font-size="30.60" fill="#0a0aa8" stroke="#0a0aa8" stroke-width="0.3" xml:space="preserve">0</text>
<text transform="translate(44.0 995.0) rotate(-90) scale(1.1119 1)" x="-100.18 -76.64 -61.04 -42.96 -22.16 -6.32 12.02 21.18 32.38 60.06 87.64" y="0" font-size="32.71" fill="#0a0aa8" stroke="#0a0aa8" stroke-width="0.3" xml:space="preserve">Осадки (mm)</text>
<text transform="translate(2087.0 995.0) rotate(-90) scale(1.0976 1)" x="-136.18 -112.62 -94.72 -76.25 -58.35 -40.95 -22.90 0.45 18.97 28.64 46.62 66.06 81.95 99.89 117.59" y="0" font-size="32.71" fill="#6e6e6e" stroke="#6e6e6e" stroke-width="0.3" xml:space="preserve">Облачный покров</text>
<defs><clipPath id="c3"><rect x="155.5" y="1295.8" width="1866.5" height="415.0"/></clipPath></defs>
<text transform="translate(201.8 1279.6) scale(1.1245 1)" x="-16.41 0.00" y="0" font-size="29.58" fill="#000" stroke="#000" stroke-width="0.3" xml:space="preserve">01</text>
<text transform="translate(318.5 1279.6) scale(1.1245 1)" x="-16.41 0.00" y="0" font-size="29.58" fill="#000" stroke="#000" stroke-width="0.3" xml:space="preserve">03</text>
<text transform="translate(435.1 1279.6) scale(1.1245 1)" x="-16.41 0.00" y="0" font-size="29.58" fill="#000" stroke="#000" stroke-width="0.3" xml:space="preserve">05</text>
<text transform="translate(551.8 1279.6) scale(1.1245 1)" x="-16.41 0.00" y="0" font-size="29.58" fill="#000" stroke="#000" stroke-width="0.3" xml:space="preserve">07</text>
<text transform="translate(668.5 1279.6) scale(1.1245 1)" x="-16.41 0.00" y="0" font-size="29.58" fill="#000" stroke="#000" stroke-width="0.3" xml:space="preserve">09</text>
<text transform="translate(785.2 1279.6) scale(1.2048 1)" x="-15.86 -0.55" y="0" font-size="29.58" fill="#000" stroke="#000" stroke-width="0.3" xml:space="preserve">11</text>
<text transform="translate(901.8 1279.6) scale(1.1245 1)" x="-16.41 0.00" y="0" font-size="29.58" fill="#000" stroke="#000" stroke-width="0.3" xml:space="preserve">13</text>
<text transform="translate(1018.5 1279.6) scale(1.1245 1)" x="-16.41 0.00" y="0" font-size="29.58" fill="#000" stroke="#000" stroke-width="0.3" xml:space="preserve">15</text>
<text transform="translate(1135.2 1279.6) scale(1.1245 1)" x="-16.41 0.00" y="0" font-size="29.58" fill="#000" stroke="#000" stroke-width="0.3" xml:space="preserve">17</text>
<text transform="translate(1251.9 1279.6) scale(1.1245 1)" x="-16.41 0.00" y="0" font-size="29.58" fill="#000" stroke="#000" stroke-width="0.3" xml:space="preserve">19</text>
<text transform="translate(1368.5 1279.6) scale(1.1245 1)" x="-16.41 0.00" y="0" font-size="29.58" fill="#000" stroke="#000" stroke-width="0.3" xml:space="preserve">21</text>
<text transform="translate(1485.2 1279.6) scale(1.1245 1)" x="-16.41 0.00" y="0" font-size="29.58" fill="#000" stroke="#000" stroke-width="0.3" xml:space="preserve">23</text>
<text transform="translate(1601.9 1279.6) scale(1.1245 1)" x="-16.41 0.00" y="0" font-size="29.58" fill="#000" stroke="#000" stroke-width="0.3" xml:space="preserve">25</text>
<text transform="translate(1718.6 1279.6) scale(1.1245 1)" x="-16.41 0.00" y="0" font-size="29.58" fill="#000" stroke="#000" stroke-width="0.3" xml:space="preserve">27</text>
<text transform="translate(1835.2 1279.6) scale(1.1245 1)" x="-16.41 0.00" y="0" font-size="29.58" fill="#000" stroke="#000" stroke-width="0.3" xml:space="preserve">29</text>
<text transform="translate(1951.9 1279.6) scale(1.1245 1)" x="-16.41 0.00" y="0" font-size="29.58" fill="#000" stroke="#000" stroke-width="0.3" xml:space="preserve">31</text>
<line x1="1983.5" y1="1399.3" x2="2020.5" y2="1399.3" stroke="#7050a0" stroke-width="1.6"/>
<line x1="1988.5" y1="1606.3" x2="2020.5" y2="1606.3" stroke="#7050a0" stroke-width="1.6"/>
<line x1="1988.5" y1="1502.8" x2="2020.5" y2="1502.8" stroke="#7050a0" stroke-width="1.6"/>
<g clip-path="url(#c3)">
<polygon points="155.5,1559.1 195.0,1559.1 253.4,1521.5 311.9,1533.4 370.3,1551.5 428.7,1474.6 487.1,1504.5 545.6,1390.7 604.0,1509.4 662.4,1558.1 720.9,1535.9 779.3,1541.2 837.7,1476.8 896.2,1542.2 954.6,1487.9 1013.0,1478.0 1071.5,1463.1 1129.9,1421.7 1188.3,1531.9 1246.7,1410.1 1305.2,1474.8 1363.6,1469.2 1422.0,1513.2 1480.5,1542.2 1538.9,1416.0 1597.3,1466.4 1655.8,1317.3 1714.2,1429.1 1772.6,1450.6 1831.0,1481.3 1889.5,1559.9 1947.9,1513.2 1992.0,1472.0 1994.5,1458.1 2020.5,1458.1 2020.5,1554.3 1994.5,1554.3 1992.0,1583.3 1947.9,1673.9 1889.5,1702.0 1831.0,1601.0 1772.6,1539.2 1714.2,1642.1 1655.8,1612.1 1597.3,1678.7 1538.9,1574.0 1480.5,1663.6 1422.0,1662.8 1363.6,1574.8 1305.2,1604.8 1246.7,1604.8 1188.3,1690.8 1129.9,1525.3 1071.5,1517.7 1013.0,1546.8 954.6,1607.6 896.2,1680.5 837.7,1686.9 779.3,1703.8 720.9,1698.2 662.4,1645.9 604.0,1686.1 545.6,1545.0 487.1,1593.5 428.7,1618.7 370.3,1655.2 311.9,1676.7 253.4,1649.7 195.0,1655.2 155.5,1655.2" fill="#dff0fa"/>
</g>
<g fill="#7050a0" shape-rendering="geometricPrecision" clip-path="url(#c3)">
<circle cx="152.8" cy="1653.4" r="4.2"/>
<circle cx="163.1" cy="1642.2" r="4.2"/>
<circle cx="165.9" cy="1631.0" r="4.2"/>
<circle cx="167.7" cy="1631.6" r="4.2"/>
<circle cx="169.6" cy="1632.3" r="4.2"/>
<circle cx="171.5" cy="1632.9" r="4.2"/>
<circle cx="168.7" cy="1617.9" r="4.2"/>
<circle cx="177.1" cy="1675.8" r="4.2"/>
<circle cx="179.0" cy="1676.5" r="4.2"/>
<circle cx="180.8" cy="1677.1" r="4.2"/>
<circle cx="182.7" cy="1677.7" r="4.2"/>
<circle cx="185.8" cy="1675.2" r="4.2"/>
<circle cx="192.0" cy="1633.8" r="4.2"/>
<circle cx="193.9" cy="1625.4" r="4.2"/>
<circle cx="197.6" cy="1615.1" r="4.2"/>
<circle cx="199.5" cy="1591.8" r="4.2"/>
<circle cx="202.3" cy="1561.9" r="4.2"/>
<circle cx="206.0" cy="1531.1" r="4.2"/>
<circle cx="208.5" cy="1534.2" r="4.2"/>
<circle cx="216.3" cy="1574.0" r="4.2"/>
<circle cx="218.8" cy="1577.1" r="4.2"/>
<circle cx="221.9" cy="1580.6" r="4.2"/>
<circle cx="223.8" cy="1582.4" r="4.2"/>
<circle cx="222.4" cy="1584.3" r="4.2"/>
<circle cx="221.0" cy="1586.2" r="4.2"/>
<circle cx="230.3" cy="1668.4" r="4.2"/>
<circle cx="231.6" cy="1670.2" r="4.2"/>
<circle cx="232.8" cy="1672.1" r="4.2"/>
<circle cx="234.1" cy="1674.0" r="4.2"/>
<circle cx="236.6" cy="1677.1" r="4.2"/>
<circle cx="239.7" cy="1680.1" r="4.2"/>
<circle cx="241.5" cy="1681.5" r="4.2"/>
<circle cx="243.4" cy="1680.1" r="4.2"/>
<circle cx="245.3" cy="1678.7" r="4.2"/>
<circle cx="248.1" cy="1665.6" r="4.2"/>
<circle cx="250.0" cy="1640.4" r="4.2"/>
<circle cx="253.3" cy="1611.0" r="4.2"/>
<circle cx="258.4" cy="1582.4" r="4.2"/>
<circle cx="262.1" cy="1571.2" r="4.2"/>
<circle cx="265.3" cy="1556.8" r="4.2"/>
<circle cx="267.3" cy="1544.7" r="4.2"/>
<circle cx="271.4" cy="1536.3" r="4.2"/>
<circle cx="275.2" cy="1550.7" r="4.2"/>
<circle cx="277.0" cy="1552.5" r="4.2"/>
<circle cx="278.9" cy="1554.4" r="4.2"/>
<circle cx="280.3" cy="1556.3" r="4.2"/>
<circle cx="281.7" cy="1558.1" r="4.2"/>
<circle cx="282.6" cy="1560.3" r="4.2"/>
<circle cx="283.6" cy="1562.5" r="4.2"/>
<circle cx="284.5" cy="1564.7" r="4.2"/>
<circle cx="287.3" cy="1632.3" r="4.2"/>
<circle cx="292.0" cy="1699.2" r="4.2"/>
<circle cx="294.5" cy="1696.1" r="4.2"/>
<circle cx="297.0" cy="1692.7" r="4.2"/>
<circle cx="298.2" cy="1690.8" r="4.2"/>
<circle cx="299.5" cy="1688.9" r="4.2"/>
<circle cx="301.3" cy="1688.0" r="4.2"/>
<circle cx="303.2" cy="1687.1" r="4.2"/>
<circle cx="309.4" cy="1642.2" r="4.2"/>
<circle cx="311.6" cy="1609.5" r="4.2"/>
<circle cx="313.8" cy="1608.6" r="4.2"/>
<circle cx="316.0" cy="1607.7" r="4.2"/>
<circle cx="318.1" cy="1606.7" r="4.2"/>
<circle cx="333.1" cy="1616.1" r="4.2"/>
<circle cx="336.8" cy="1580.6" r="4.2"/>
<circle cx="346.2" cy="1696.4" r="4.2"/>
<circle cx="348.0" cy="1695.8" r="4.2"/>
<circle cx="349.9" cy="1695.2" r="4.2"/>
<circle cx="351.8" cy="1694.5" r="4.2"/>
<circle cx="353.6" cy="1696.4" r="4.2"/>
<circle cx="355.5" cy="1698.3" r="4.2"/>
<circle cx="361.1" cy="1685.2" r="4.2"/>
<circle cx="362.7" cy="1683.3" r="4.2"/>
<circle cx="364.2" cy="1681.5" r="4.2"/>
<circle cx="365.8" cy="1679.6" r="4.2"/>
<circle cx="371.4" cy="1669.7" r="4.2"/>
<circle cx="377.0" cy="1627.6" r="4.2"/>
<circle cx="391.0" cy="1623.5" r="4.2"/>
<circle cx="392.9" cy="1622.3" r="4.2"/>
<circle cx="394.7" cy="1621.0" r="4.2"/>
<circle cx="396.6" cy="1619.8" r="4.2"/>
<circle cx="394.7" cy="1610.5" r="4.2"/>
<circle cx="396.3" cy="1609.2" r="4.2"/>
<circle cx="399.4" cy="1606.7" r="4.2"/>
<circle cx="403.2" cy="1655.3" r="4.2"/>
<circle cx="407.8" cy="1672.1" r="4.2"/>
<circle cx="409.7" cy="1671.5" r="4.2"/>
<circle cx="411.6" cy="1670.9" r="4.2"/>
<circle cx="413.4" cy="1670.2" r="4.2"/>
<circle cx="415.3" cy="1669.6" r="4.2"/>
<circle cx="417.2" cy="1669.0" r="4.2"/>
<circle cx="419.0" cy="1668.4" r="4.2"/>
<circle cx="422.1" cy="1665.9" r="4.2"/>
<circle cx="423.7" cy="1664.6" r="4.2"/>
<circle cx="425.6" cy="1653.4" r="4.2"/>
<circle cx="428.4" cy="1638.5" r="4.2"/>
<circle cx="434.0" cy="1602.1" r="4.2"/>
<circle cx="435.8" cy="1601.4" r="4.2"/>
<circle cx="437.7" cy="1600.8" r="4.2"/>
<circle cx="439.6" cy="1600.2" r="4.2"/>
<circle cx="441.5" cy="1599.6" r="4.2"/>
<circle cx="443.3" cy="1598.9" r="4.2"/>
<circle cx="445.2" cy="1598.3" r="4.2"/>
<circle cx="447.1" cy="1597.4" r="4.2"/>
<circle cx="448.9" cy="1596.4" r="4.2"/>
<circle cx="450.8" cy="1595.5" r="4.2"/>
<circle cx="452.7" cy="1595.2" r="4.2"/>
<circle cx="454.5" cy="1594.9" r="4.2"/>
<circle cx="456.4" cy="1594.6" r="4.2"/>
<circle cx="459.2" cy="1618.3" r="4.2"/>
<circle cx="462.4" cy="1638.5" r="4.2"/>
<circle cx="463.9" cy="1652.5" r="4.2"/>
<circle cx="464.8" cy="1654.7" r="4.2"/>
<circle cx="465.7" cy="1656.9" r="4.2"/>
<circle cx="466.7" cy="1659.0" r="4.2"/>
<circle cx="467.6" cy="1660.9" r="4.2"/>
<circle cx="468.5" cy="1662.8" r="4.2"/>
<circle cx="469.5" cy="1664.6" r="4.2"/>
<circle cx="471.3" cy="1663.4" r="4.2"/>
<circle cx="473.2" cy="1662.1" r="4.2"/>
<circle cx="475.1" cy="1660.9" r="4.2"/>
<circle cx="479.8" cy="1668.4" r="4.2"/>
<circle cx="481.6" cy="1660.0" r="4.2"/>
<circle cx="484.4" cy="1640.0" r="4.2"/>
<circle cx="486.3" cy="1617.0" r="4.2"/>
<circle cx="489.1" cy="1604.9" r="4.2"/>
<circle cx="490.5" cy="1603.0" r="4.2"/>
<circle cx="491.9" cy="1601.1" r="4.2"/>
<circle cx="505.9" cy="1595.5" r="4.2"/>
<circle cx="506.8" cy="1598.0" r="4.2"/>
<circle cx="507.8" cy="1600.5" r="4.2"/>
<circle cx="508.7" cy="1603.0" r="4.2"/>
<circle cx="509.6" cy="1605.5" r="4.2"/>
<circle cx="510.6" cy="1608.0" r="4.2"/>
<circle cx="511.5" cy="1610.5" r="4.2"/>
<circle cx="513.4" cy="1611.9" r="4.2"/>
<circle cx="515.2" cy="1613.3" r="4.2"/>
<circle cx="518.4" cy="1631.0" r="4.2"/>
<circle cx="520.5" cy="1649.7" r="4.2"/>
<circle cx="524.6" cy="1664.6" r="4.2"/>
<circle cx="526.8" cy="1663.4" r="4.2"/>
<circle cx="529.0" cy="1662.1" r="4.2"/>
<circle cx="531.1" cy="1660.9" r="4.2"/>
<circle cx="533.0" cy="1660.0" r="4.2"/>
<circle cx="534.9" cy="1659.0" r="4.2"/>
<circle cx="536.7" cy="1658.1" r="4.2"/>
<circle cx="538.6" cy="1656.9" r="4.2"/>
<circle cx="540.5" cy="1655.6" r="4.2"/>
<circle cx="542.3" cy="1654.4" r="4.2"/>
<circle cx="544.2" cy="1653.1" r="4.2"/>
<circle cx="546.1" cy="1651.9" r="4.2"/>
<circle cx="547.9" cy="1650.6" r="4.2"/>
<circle cx="521.9" cy="1631.0" r="4.2"/>
<circle cx="538.7" cy="1659.0" r="4.2"/>
<circle cx="549.9" cy="1649.7" r="4.2"/>
<circle cx="551.8" cy="1648.1" r="4.2"/>
<circle cx="553.6" cy="1646.6" r="4.2"/>
<circle cx="555.5" cy="1645.0" r="4.2"/>
<circle cx="558.6" cy="1641.9" r="4.2"/>
<circle cx="561.7" cy="1641.9" r="4.2"/>
<circle cx="564.8" cy="1645.0" r="4.2"/>
<circle cx="567.2" cy="1645.5" r="4.2"/>
<circle cx="569.5" cy="1646.0" r="4.2"/>
<circle cx="571.8" cy="1645.0" r="4.2"/>
<circle cx="574.2" cy="1644.1" r="4.2"/>
<circle cx="579.8" cy="1655.3" r="4.2"/>
<circle cx="582.6" cy="1664.6" r="4.2"/>
<circle cx="584.0" cy="1666.5" r="4.2"/>
<circle cx="585.4" cy="1668.4" r="4.2"/>
<circle cx="600.3" cy="1636.6" r="4.2"/>
<circle cx="603.1" cy="1625.8" r="4.2"/>
<circle cx="605.9" cy="1605.8" r="4.2"/>
<circle cx="612.5" cy="1567.5" r="4.2"/>
<circle cx="615.3" cy="1477.8" r="4.2"/>
<circle cx="617.2" cy="1438.6" r="4.2"/>
<circle cx="619.5" cy="1439.5" r="4.2"/>
<circle cx="621.8" cy="1440.4" r="4.2"/>
<circle cx="620.0" cy="1425.5" r="4.2"/>
<circle cx="625.6" cy="1456.0" r="4.2"/>
<circle cx="627.4" cy="1477.8" r="4.2"/>
<circle cx="628.4" cy="1479.7" r="4.2"/>
<circle cx="629.3" cy="1481.5" r="4.2"/>
<circle cx="630.2" cy="1483.4" r="4.2"/>
<circle cx="630.9" cy="1485.3" r="4.2"/>
<circle cx="631.5" cy="1487.2" r="4.2"/>
<circle cx="632.1" cy="1489.0" r="4.2"/>
<circle cx="633.5" cy="1490.9" r="4.2"/>
<circle cx="634.9" cy="1492.8" r="4.2"/>
<circle cx="636.3" cy="1490.9" r="4.2"/>
<circle cx="637.7" cy="1489.0" r="4.2"/>
<circle cx="639.6" cy="1469.0" r="4.2"/>
<circle cx="642.4" cy="1456.0" r="4.2"/>
<circle cx="644.2" cy="1445.7" r="4.2"/>
<circle cx="647.4" cy="1424.9" r="4.2"/>
<circle cx="651.7" cy="1699.2" r="4.2"/>
<circle cx="654.5" cy="1682.9" r="4.2"/>
<circle cx="656.4" cy="1665.9" r="4.2"/>
<circle cx="661.1" cy="1623.5" r="4.2"/>
<circle cx="666.7" cy="1571.2" r="4.2"/>
<circle cx="671.3" cy="1524.1" r="4.2"/>
<circle cx="673.2" cy="1503.0" r="4.2"/>
<circle cx="676.6" cy="1474.1" r="4.2"/>
<circle cx="679.7" cy="1459.1" r="4.2"/>
<circle cx="681.3" cy="1461.0" r="4.2"/>
<circle cx="682.9" cy="1462.9" r="4.2"/>
<circle cx="684.4" cy="1464.7" r="4.2"/>
<circle cx="685.8" cy="1466.6" r="4.2"/>
<circle cx="687.2" cy="1468.5" r="4.2"/>
<circle cx="688.1" cy="1470.3" r="4.2"/>
<circle cx="689.1" cy="1472.2" r="4.2"/>
<circle cx="690.0" cy="1474.1" r="4.2"/>
<circle cx="691.9" cy="1474.1" r="4.2"/>
<circle cx="693.8" cy="1474.1" r="4.2"/>
<circle cx="695.6" cy="1460.1" r="4.2"/>
<circle cx="698.4" cy="1442.9" r="4.2"/>
<circle cx="700.3" cy="1424.2" r="4.2"/>
<circle cx="700.9" cy="1422.1" r="4.2"/>
<circle cx="701.5" cy="1420.1" r="4.2"/>
<circle cx="702.2" cy="1418.0" r="4.2"/>
<circle cx="703.1" cy="1416.2" r="4.2"/>
<circle cx="704.0" cy="1414.3" r="4.2"/>
<circle cx="705.0" cy="1412.4" r="4.2"/>
<circle cx="707.8" cy="1393.7" r="4.2"/>
<circle cx="715.2" cy="1706.7" r="4.2"/>
<circle cx="722.7" cy="1673.0" r="4.2"/>
<circle cx="724.6" cy="1653.1" r="4.2"/>
<circle cx="727.4" cy="1634.7" r="4.2"/>
<circle cx="728.8" cy="1632.9" r="4.2"/>
<circle cx="730.2" cy="1631.0" r="4.2"/>
<circle cx="788.1" cy="1399.0" r="4.2"/>
<circle cx="790.9" cy="1460.1" r="4.2"/>
<circle cx="795.6" cy="1449.8" r="4.2"/>
<circle cx="798.7" cy="1447.3" r="4.2"/>
<circle cx="804.9" cy="1434.8" r="4.2"/>
<circle cx="805.8" cy="1447.9" r="4.2"/>
<circle cx="810.5" cy="1461.0" r="4.2"/>
<circle cx="813.0" cy="1457.9" r="4.2"/>
<circle cx="817.1" cy="1442.9" r="4.2"/>
<circle cx="819.5" cy="1425.9" r="4.2"/>
<circle cx="822.3" cy="1404.0" r="4.2"/>
<circle cx="835.7" cy="1675.8" r="4.2"/>
<circle cx="836.4" cy="1673.4" r="4.2"/>
<circle cx="837.0" cy="1670.9" r="4.2"/>
<circle cx="837.6" cy="1668.4" r="4.2"/>
<circle cx="840.4" cy="1652.5" r="4.2"/>
<circle cx="845.1" cy="1666.5" r="4.2"/>
<circle cx="847.4" cy="1667.4" r="4.2"/>
<circle cx="849.8" cy="1668.4" r="4.2"/>
<circle cx="853.5" cy="1658.1" r="4.2"/>
<circle cx="848.8" cy="1674.0" r="4.2"/>
<circle cx="890.9" cy="1702.4" r="4.2"/>
<circle cx="895.5" cy="1692.1" r="4.2"/>
<circle cx="910.5" cy="1548.8" r="4.2"/>
<circle cx="912.3" cy="1549.4" r="4.2"/>
<circle cx="914.2" cy="1550.0" r="4.2"/>
<circle cx="916.1" cy="1550.7" r="4.2"/>
<circle cx="893.7" cy="1705.7" r="4.2"/>
<circle cx="907.7" cy="1547.9" r="4.2"/>
<circle cx="918.6" cy="1551.0" r="4.2"/>
<circle cx="920.8" cy="1551.6" r="4.2"/>
<circle cx="923.2" cy="1552.1" r="4.2"/>
<circle cx="925.5" cy="1552.5" r="4.2"/>
<circle cx="929.2" cy="1618.3" r="4.2"/>
<circle cx="948.9" cy="1632.9" r="4.2"/>
<circle cx="932.0" cy="1653.4" r="4.2"/>
<circle cx="935.2" cy="1655.9" r="4.2"/>
<circle cx="939.0" cy="1657.6" r="4.2"/>
<circle cx="941.4" cy="1658.1" r="4.2"/>
<circle cx="944.5" cy="1655.6" r="4.2"/>
<circle cx="987.2" cy="1607.7" r="4.2"/>
<circle cx="989.0" cy="1618.3" r="4.2"/>
<circle cx="990.0" cy="1620.7" r="4.2"/>
<circle cx="990.9" cy="1623.0" r="4.2"/>
<circle cx="991.8" cy="1625.4" r="4.2"/>
<circle cx="993.1" cy="1627.3" r="4.2"/>
<circle cx="994.3" cy="1629.1" r="4.2"/>
<circle cx="995.6" cy="1631.0" r="4.2"/>
<circle cx="996.5" cy="1632.9" r="4.2"/>
<circle cx="997.4" cy="1634.7" r="4.2"/>
<circle cx="998.4" cy="1636.6" r="4.2"/>
<circle cx="999.3" cy="1638.5" r="4.2"/>
<circle cx="1000.2" cy="1640.4" r="4.2"/>
<circle cx="1001.2" cy="1642.2" r="4.2"/>
<circle cx="1004.0" cy="1644.1" r="4.2"/>
<circle cx="1002.1" cy="1646.9" r="4.2"/>
<circle cx="1006.8" cy="1623.5" r="4.2"/>
<circle cx="1009.6" cy="1605.8" r="4.2"/>
<circle cx="1012.4" cy="1597.4" r="4.2"/>
<circle cx="1013.4" cy="1595.2" r="4.2"/>
<circle cx="1014.5" cy="1593.0" r="4.2"/>
<circle cx="1015.5" cy="1590.8" r="4.2"/>
<circle cx="1016.7" cy="1589.0" r="4.2"/>
<circle cx="1017.8" cy="1587.1" r="4.2"/>
<circle cx="1018.9" cy="1585.2" r="4.2"/>
<circle cx="1022.0" cy="1582.7" r="4.2"/>
<circle cx="1025.1" cy="1580.3" r="4.2"/>
<circle cx="1028.3" cy="1577.8" r="4.2"/>
<circle cx="1030.1" cy="1578.1" r="4.2"/>
<circle cx="1032.0" cy="1578.4" r="4.2"/>
<circle cx="1033.9" cy="1578.7" r="4.2"/>
<circle cx="1035.7" cy="1578.4" r="4.2"/>
<circle cx="1037.6" cy="1578.1" r="4.2"/>
<circle cx="1039.5" cy="1577.8" r="4.2"/>
<circle cx="1043.2" cy="1587.1" r="4.2"/>
<circle cx="1045.1" cy="1612.3" r="4.2"/>
<circle cx="1048.4" cy="1621.1" r="4.2"/>
<circle cx="1049.2" cy="1623.5" r="4.2"/>
<circle cx="1049.9" cy="1625.8" r="4.2"/>
<circle cx="1050.7" cy="1628.2" r="4.2"/>
<circle cx="1052.5" cy="1629.6" r="4.2"/>
<circle cx="1054.4" cy="1631.0" r="4.2"/>
<circle cx="1056.3" cy="1632.4" r="4.2"/>
<circle cx="1058.1" cy="1633.8" r="4.2"/>
<circle cx="1060.0" cy="1633.8" r="4.2"/>
<circle cx="1061.9" cy="1633.8" r="4.2"/>
<circle cx="1065.2" cy="1617.0" r="4.2"/>
<circle cx="1067.5" cy="1602.6" r="4.2"/>
<circle cx="1070.9" cy="1590.8" r="4.2"/>
<circle cx="1071.9" cy="1588.3" r="4.2"/>
<circle cx="1073.0" cy="1585.9" r="4.2"/>
<circle cx="1074.0" cy="1583.4" r="4.2"/>
<circle cx="1075.3" cy="1581.2" r="4.2"/>
<circle cx="1076.5" cy="1579.0" r="4.2"/>
<circle cx="1077.8" cy="1576.8" r="4.2"/>
<circle cx="1080.9" cy="1573.7" r="4.2"/>
<circle cx="1084.3" cy="1571.8" r="4.2"/>
<circle cx="1086.2" cy="1571.5" r="4.2"/>
<circle cx="1088.0" cy="1571.2" r="4.2"/>
<circle cx="1089.9" cy="1572.2" r="4.2"/>
<circle cx="1091.8" cy="1573.1" r="4.2"/>
<circle cx="1093.6" cy="1574.0" r="4.2"/>
<circle cx="1095.5" cy="1575.9" r="4.2"/>
<circle cx="1097.4" cy="1577.8" r="4.2"/>
<circle cx="1098.8" cy="1579.6" r="4.2"/>
<circle cx="1100.2" cy="1581.5" r="4.2"/>
<circle cx="1101.1" cy="1595.5" r="4.2"/>
<circle cx="1102.4" cy="1597.4" r="4.2"/>
<circle cx="1103.6" cy="1599.2" r="4.2"/>
<circle cx="1104.9" cy="1601.1" r="4.2"/>
<circle cx="1106.7" cy="1603.0" r="4.2"/>
<circle cx="1108.6" cy="1604.9" r="4.2"/>
<circle cx="1110.0" cy="1607.2" r="4.2"/>
<circle cx="1111.4" cy="1609.5" r="4.2"/>
<circle cx="1113.3" cy="1619.4" r="4.2"/>
<circle cx="1116.1" cy="1629.1" r="4.2"/>
<circle cx="1121.7" cy="1637.5" r="4.2"/>
<circle cx="1120.4" cy="1639.1" r="4.2"/>
<circle cx="1117.9" cy="1642.2" r="4.2"/>
<circle cx="1123.0" cy="1619.4" r="4.2"/>
<circle cx="1125.4" cy="1605.8" r="4.2"/>
<circle cx="1128.2" cy="1595.1" r="4.2"/>
<circle cx="1131.0" cy="1585.2" r="4.2"/>
<circle cx="1131.9" cy="1583.4" r="4.2"/>
<circle cx="1132.9" cy="1581.5" r="4.2"/>
<circle cx="1133.8" cy="1579.6" r="4.2"/>
<circle cx="1157.2" cy="1567.5" r="4.2"/>
<circle cx="1156.2" cy="1576.8" r="4.2"/>
<circle cx="1169.3" cy="1470.0" r="4.2"/>
<circle cx="1172.5" cy="1450.7" r="4.2"/>
<circle cx="1174.4" cy="1434.3" r="4.2"/>
<circle cx="1177.7" cy="1399.3" r="4.2"/>
<circle cx="1186.1" cy="1399.3" r="4.2"/>
<circle cx="1179.6" cy="1457.3" r="4.2"/>
<circle cx="1181.9" cy="1458.2" r="4.2"/>
<circle cx="1184.3" cy="1459.1" r="4.2"/>
<circle cx="1181.5" cy="1471.6" r="4.2"/>
<circle cx="1189.9" cy="1628.2" r="4.2"/>
<circle cx="1194.2" cy="1542.8" r="4.2"/>
<circle cx="1198.3" cy="1487.2" r="4.2"/>
<circle cx="1231.9" cy="1466.6" r="4.2"/>
<circle cx="1248.7" cy="1429.2" r="4.2"/>
<circle cx="1250.6" cy="1440.4" r="4.2"/>
<circle cx="1252.4" cy="1442.3" r="4.2"/>
<circle cx="1254.3" cy="1444.2" r="4.2"/>
<circle cx="1255.7" cy="1442.3" r="4.2"/>
<circle cx="1257.1" cy="1440.4" r="4.2"/>
<circle cx="1282.3" cy="1427.4" r="4.2"/>
<circle cx="1284.2" cy="1426.7" r="4.2"/>
<circle cx="1286.1" cy="1426.1" r="4.2"/>
<circle cx="1287.9" cy="1425.5" r="4.2"/>
<circle cx="1261.9" cy="1440.4" r="4.2"/>
<circle cx="1296.4" cy="1402.1" r="4.2"/>
<circle cx="1282.4" cy="1431.1" r="4.2"/>
<circle cx="1284.3" cy="1429.2" r="4.2"/>
<circle cx="1290.4" cy="1424.1" r="4.2"/>
<circle cx="1292.7" cy="1422.7" r="4.2"/>
<circle cx="1293.0" cy="1425.2" r="4.2"/>
<circle cx="1293.3" cy="1427.7" r="4.2"/>
<circle cx="1293.6" cy="1430.2" r="4.2"/>
<circle cx="1395.5" cy="1433.9" r="4.2"/>
<circle cx="1459.9" cy="1391.9" r="4.2"/>
<circle cx="1456.2" cy="1425.9" r="4.2"/>
<circle cx="1454.3" cy="1462.9" r="4.2"/>
<circle cx="1428.1" cy="1498.4" r="4.2"/>
<circle cx="1429.1" cy="1496.5" r="4.2"/>
<circle cx="1430.0" cy="1494.6" r="4.2"/>
<circle cx="1430.9" cy="1492.8" r="4.2"/>
<circle cx="1432.8" cy="1490.9" r="4.2"/>
<circle cx="1434.7" cy="1489.0" r="4.2"/>
<circle cx="1437.8" cy="1491.5" r="4.2"/>
<circle cx="1440.6" cy="1494.9" r="4.2"/>
<circle cx="1441.8" cy="1497.1" r="4.2"/>
<circle cx="1443.1" cy="1499.3" r="4.2"/>
<circle cx="1445.6" cy="1502.4" r="4.2"/>
<circle cx="1449.2" cy="1504.0" r="4.2"/>
<circle cx="1451.5" cy="1504.0" r="4.2"/>
<circle cx="1376.8" cy="1501.2" r="4.2"/>
<circle cx="1379.1" cy="1500.7" r="4.2"/>
<circle cx="1381.4" cy="1500.2" r="4.2"/>
<circle cx="1383.3" cy="1502.1" r="4.2"/>
<circle cx="1385.2" cy="1504.0" r="4.2"/>
<circle cx="1387.0" cy="1505.4" r="4.2"/>
<circle cx="1388.9" cy="1506.8" r="4.2"/>
<circle cx="1391.7" cy="1507.7" r="4.2"/>
<circle cx="1375.8" cy="1513.3" r="4.2"/>
<circle cx="1425.3" cy="1539.1" r="4.2"/>
<circle cx="1422.5" cy="1560.6" r="4.2"/>
<circle cx="1371.2" cy="1548.8" r="4.2"/>
<circle cx="1369.3" cy="1559.1" r="4.2"/>
<circle cx="1361.8" cy="1594.6" r="4.2"/>
<circle cx="1359.0" cy="1613.3" r="4.2"/>
<circle cx="1334.7" cy="1602.1" r="4.2"/>
<circle cx="1333.2" cy="1603.9" r="4.2"/>
<circle cx="1331.6" cy="1605.8" r="4.2"/>
<circle cx="1330.1" cy="1607.7" r="4.2"/>
<circle cx="1322.6" cy="1617.9" r="4.2"/>
<circle cx="1321.7" cy="1619.8" r="4.2"/>
<circle cx="1320.7" cy="1621.7" r="4.2"/>
<circle cx="1319.8" cy="1623.5" r="4.2"/>
<circle cx="1319.2" cy="1625.4" r="4.2"/>
<circle cx="1318.5" cy="1627.3" r="4.2"/>
<circle cx="1317.9" cy="1629.1" r="4.2"/>
<circle cx="1336.6" cy="1625.4" r="4.2"/>
<circle cx="1339.4" cy="1633.8" r="4.2"/>
<circle cx="1341.7" cy="1634.7" r="4.2"/>
<circle cx="1344.1" cy="1635.7" r="4.2"/>
<circle cx="1345.9" cy="1636.0" r="4.2"/>
<circle cx="1347.8" cy="1636.3" r="4.2"/>
<circle cx="1349.7" cy="1636.6" r="4.2"/>
<circle cx="1351.9" cy="1636.9" r="4.2"/>
<circle cx="1354.0" cy="1637.2" r="4.2"/>
<circle cx="1356.2" cy="1637.5" r="4.2"/>
<circle cx="1348.7" cy="1646.0" r="4.2"/>
<circle cx="1350.3" cy="1647.2" r="4.2"/>
<circle cx="1353.4" cy="1649.7" r="4.2"/>
<circle cx="1315.1" cy="1649.7" r="4.2"/>
<circle cx="1313.2" cy="1662.8" r="4.2"/>
<circle cx="1312.3" cy="1665.3" r="4.2"/>
<circle cx="1311.4" cy="1667.8" r="4.2"/>
<circle cx="1310.4" cy="1670.2" r="4.2"/>
<circle cx="1309.5" cy="1672.4" r="4.2"/>
<circle cx="1308.6" cy="1674.6" r="4.2"/>
<circle cx="1307.6" cy="1676.8" r="4.2"/>
<circle cx="1306.7" cy="1679.3" r="4.2"/>
<circle cx="1305.8" cy="1681.8" r="4.2"/>
<circle cx="1304.8" cy="1684.3" r="4.2"/>
<circle cx="1303.0" cy="1706.7" r="4.2"/>
<circle cx="1417.3" cy="1627.8" r="4.2"/>
<circle cx="1412.3" cy="1681.5" r="4.2"/>
<circle cx="1410.4" cy="1689.9" r="4.2"/>
<circle cx="1471.1" cy="1677.7" r="4.2"/>
<circle cx="1468.3" cy="1686.1" r="4.2"/>
<circle cx="1466.4" cy="1704.8" r="4.2"/>
<circle cx="1478.2" cy="1605.8" r="4.2"/>
<circle cx="1476.3" cy="1638.5" r="4.2"/>
<circle cx="1493.5" cy="1539.5" r="4.2"/>
<circle cx="1492.3" cy="1542.0" r="4.2"/>
<circle cx="1491.0" cy="1544.4" r="4.2"/>
<circle cx="1489.8" cy="1546.9" r="4.2"/>
<circle cx="1487.0" cy="1560.0" r="4.2"/>
<circle cx="1510.4" cy="1574.6" r="4.2"/>
<circle cx="1515.0" cy="1625.8" r="4.2"/>
<circle cx="1516.4" cy="1627.9" r="4.2"/>
<circle cx="1517.8" cy="1630.1" r="4.2"/>
<circle cx="1522.5" cy="1638.5" r="4.2"/>
<circle cx="1525.6" cy="1641.0" r="4.2"/>
<circle cx="1528.6" cy="1643.2" r="4.2"/>
<circle cx="1531.8" cy="1632.9" r="4.2"/>
<circle cx="1534.3" cy="1617.9" r="4.2"/>
<circle cx="1536.5" cy="1599.6" r="4.2"/>
<circle cx="1544.0" cy="1568.4" r="4.2"/>
<circle cx="1546.2" cy="1560.0" r="4.2"/>
<circle cx="1549.2" cy="1546.9" r="4.2"/>
<circle cx="1556.1" cy="1514.6" r="4.2"/>
<circle cx="1558.9" cy="1502.1" r="4.2"/>
<circle cx="1561.3" cy="1503.0" r="4.2"/>
<circle cx="1563.6" cy="1504.0" r="4.2"/>
<circle cx="1565.9" cy="1505.4" r="4.2"/>
<circle cx="1568.3" cy="1506.8" r="4.2"/>
<circle cx="1568.9" cy="1504.3" r="4.2"/>
<circle cx="1569.5" cy="1501.8" r="4.2"/>
<circle cx="1570.1" cy="1499.3" r="4.2"/>
<circle cx="1573.5" cy="1479.7" r="4.2"/>
<circle cx="1580.4" cy="1425.9" r="4.2"/>
<circle cx="1583.2" cy="1409.6" r="4.2"/>
<circle cx="1585.1" cy="1398.4" r="4.2"/>
<circle cx="1592.6" cy="1391.9" r="4.2"/>
<circle cx="1595.0" cy="1395.0" r="4.2"/>
<circle cx="1597.7" cy="1398.9" r="4.2"/>
<circle cx="1599.1" cy="1401.2" r="4.2"/>
<circle cx="1601.0" cy="1404.0" r="4.2"/>
<circle cx="1631.2" cy="1427.4" r="4.2"/>
<circle cx="1657.0" cy="1444.2" r="4.2"/>
<circle cx="1865.4" cy="1399.0" r="4.2"/>
<circle cx="1658.0" cy="1446.0" r="4.2"/>
<circle cx="1660.8" cy="1448.9" r="4.2"/>
<circle cx="1675.8" cy="1430.2" r="4.2"/>
<circle cx="1707.5" cy="1562.8" r="4.2"/>
<circle cx="1709.7" cy="1564.4" r="4.2"/>
<circle cx="1711.9" cy="1565.9" r="4.2"/>
<circle cx="1714.1" cy="1567.5" r="4.2"/>
<circle cx="1715.9" cy="1554.4" r="4.2"/>
<circle cx="1717.2" cy="1551.9" r="4.2"/>
<circle cx="1718.4" cy="1549.4" r="4.2"/>
<circle cx="1719.7" cy="1546.9" r="4.2"/>
<circle cx="1721.5" cy="1545.1" r="4.2"/>
<circle cx="1723.4" cy="1543.2" r="4.2"/>
<circle cx="1725.3" cy="1545.1" r="4.2"/>
<circle cx="1727.2" cy="1546.9" r="4.2"/>
<circle cx="1728.4" cy="1549.1" r="4.2"/>
<circle cx="1729.6" cy="1551.3" r="4.2"/>
<circle cx="1730.9" cy="1553.5" r="4.2"/>
<circle cx="1732.8" cy="1555.3" r="4.2"/>
<circle cx="1734.6" cy="1557.2" r="4.2"/>
<circle cx="1737.0" cy="1558.6" r="4.2"/>
<circle cx="1739.3" cy="1560.0" r="4.2"/>
<circle cx="1741.2" cy="1560.5" r="4.2"/>
<circle cx="1743.0" cy="1560.9" r="4.2"/>
<circle cx="1711.3" cy="1583.4" r="4.2"/>
<circle cx="1710.6" cy="1585.5" r="4.2"/>
<circle cx="1710.0" cy="1587.7" r="4.2"/>
<circle cx="1709.4" cy="1589.9" r="4.2"/>
<circle cx="1749.6" cy="1596.4" r="4.2"/>
<circle cx="1750.5" cy="1606.7" r="4.2"/>
<circle cx="1751.7" cy="1608.6" r="4.2"/>
<circle cx="1753.0" cy="1610.5" r="4.2"/>
<circle cx="1754.2" cy="1612.3" r="4.2"/>
<circle cx="1755.6" cy="1614.7" r="4.2"/>
<circle cx="1757.0" cy="1617.0" r="4.2"/>
<circle cx="1758.0" cy="1619.3" r="4.2"/>
<circle cx="1758.9" cy="1621.7" r="4.2"/>
<circle cx="1759.8" cy="1623.5" r="4.2"/>
<circle cx="1760.8" cy="1625.4" r="4.2"/>
<circle cx="1762.6" cy="1610.5" r="4.2"/>
<circle cx="1765.5" cy="1594.6" r="4.2"/>
<circle cx="1767.3" cy="1585.2" r="4.2"/>
<circle cx="1768.3" cy="1583.4" r="4.2"/>
<circle cx="1769.2" cy="1581.5" r="4.2"/>
<circle cx="1770.1" cy="1579.6" r="4.2"/>
<circle cx="1770.7" cy="1577.8" r="4.2"/>
<circle cx="1771.4" cy="1575.9" r="4.2"/>
<circle cx="1772.0" cy="1574.0" r="4.2"/>
<circle cx="1772.9" cy="1572.2" r="4.2"/>
<circle cx="1773.9" cy="1570.3" r="4.2"/>
<circle cx="1774.8" cy="1568.4" r="4.2"/>
<circle cx="1776.7" cy="1566.6" r="4.2"/>
<circle cx="1778.5" cy="1564.7" r="4.2"/>
<circle cx="1805.6" cy="1595.5" r="4.2"/>
<circle cx="1808.4" cy="1603.9" r="4.2"/>
<circle cx="1809.4" cy="1605.8" r="4.2"/>
<circle cx="1810.3" cy="1607.7" r="4.2"/>
<circle cx="1811.2" cy="1609.5" r="4.2"/>
<circle cx="1812.6" cy="1611.9" r="4.2"/>
<circle cx="1814.0" cy="1614.2" r="4.2"/>
<circle cx="1816.8" cy="1627.6" r="4.2"/>
<circle cx="1823.4" cy="1571.6" r="4.2"/>
<circle cx="1830.8" cy="1543.2" r="4.2"/>
<circle cx="1831.4" cy="1533.9" r="4.2"/>
<circle cx="1833.6" cy="1523.0" r="4.2"/>
<circle cx="1835.5" cy="1512.4" r="4.2"/>
<circle cx="1876.6" cy="1625.4" r="4.2"/>
<circle cx="1877.5" cy="1653.8" r="4.2"/>
<circle cx="1874.7" cy="1663.1" r="4.2"/>
<circle cx="1884.1" cy="1588.0" r="4.2"/>
<circle cx="1886.9" cy="1574.0" r="4.2"/>
<circle cx="1889.2" cy="1572.6" r="4.2"/>
<circle cx="1891.6" cy="1571.2" r="4.2"/>
<circle cx="1893.4" cy="1570.3" r="4.2"/>
<circle cx="1895.3" cy="1569.4" r="4.2"/>
<circle cx="1902.8" cy="1534.8" r="4.2"/>
<circle cx="1918.7" cy="1551.6" r="4.2"/>
<circle cx="1923.3" cy="1665.6" r="4.2"/>
<circle cx="1935.5" cy="1650.6" r="4.2"/>
<circle cx="1938.3" cy="1630.1" r="4.2"/>
<circle cx="1940.1" cy="1603.9" r="4.2"/>
<circle cx="1942.0" cy="1595.5" r="4.2"/>
<circle cx="1944.5" cy="1592.4" r="4.2"/>
<circle cx="1947.0" cy="1589.3" r="4.2"/>
<circle cx="1949.5" cy="1586.2" r="4.2"/>
<circle cx="1955.1" cy="1579.6" r="4.2"/>
<circle cx="1957.0" cy="1578.1" r="4.2"/>
<circle cx="1958.8" cy="1576.5" r="4.2"/>
<circle cx="1960.7" cy="1575.0" r="4.2"/>
<circle cx="1961.9" cy="1576.8" r="4.2"/>
<circle cx="1963.2" cy="1578.7" r="4.2"/>
<circle cx="1964.4" cy="1580.6" r="4.2"/>
<circle cx="1965.7" cy="1582.4" r="4.2"/>
<circle cx="1966.9" cy="1584.3" r="4.2"/>
<circle cx="1968.2" cy="1586.2" r="4.2"/>
<circle cx="1970.0" cy="1586.2" r="4.2"/>
<circle cx="1971.9" cy="1586.2" r="4.2"/>
<circle cx="1973.8" cy="1586.2" r="4.2"/>
<circle cx="1928.9" cy="1701.1" r="4.2"/>
<circle cx="1928.6" cy="1698.9" r="4.2"/>
<circle cx="1928.3" cy="1696.7" r="4.2"/>
<circle cx="1928.0" cy="1694.5" r="4.2"/>
<circle cx="1981.2" cy="1631.0" r="4.2"/>
<circle cx="1985.0" cy="1644.1" r="4.2"/>
<circle cx="1986.8" cy="1645.5" r="4.2"/>
<circle cx="1988.7" cy="1646.9" r="4.2"/>
<circle cx="1991.5" cy="1646.0" r="4.2"/>
<circle cx="1993.4" cy="1629.1" r="4.2"/>
<circle cx="1996.2" cy="1617.0" r="4.2"/>
<circle cx="1998.1" cy="1601.1" r="4.2"/>
<circle cx="1999.3" cy="1598.6" r="4.2"/>
<circle cx="2000.5" cy="1596.1" r="4.2"/>
<circle cx="2001.8" cy="1593.6" r="4.2"/>
<circle cx="2003.0" cy="1591.8" r="4.2"/>
<circle cx="2004.3" cy="1589.9" r="4.2"/>
<circle cx="2005.5" cy="1588.0" r="4.2"/>
<circle cx="2006.8" cy="1586.2" r="4.2"/>
<circle cx="2008.0" cy="1584.3" r="4.2"/>
<circle cx="2009.3" cy="1582.4" r="4.2"/>
<circle cx="2010.5" cy="1580.6" r="4.2"/>
<circle cx="2011.8" cy="1578.7" r="4.2"/>
<circle cx="2013.0" cy="1576.8" r="4.2"/>
<circle cx="2015.5" cy="1573.7" r="4.2"/>
<circle cx="2018.1" cy="1570.8" r="4.2"/>
<circle cx="649.4" cy="1368.7" r="4.2"/>
<circle cx="710.2" cy="1329.0" r="4.2"/>
<circle cx="712.5" cy="1308.0" r="4.2"/>
<circle cx="736.3" cy="1315.0" r="4.2"/>
<circle cx="738.1" cy="1316.8" r="4.2"/>
<circle cx="739.8" cy="1318.5" r="4.2"/>
<circle cx="742.2" cy="1306.9" r="4.2"/>
<circle cx="744.5" cy="1305.7" r="4.2"/>
<circle cx="746.8" cy="1304.5" r="4.2"/>
<circle cx="749.2" cy="1303.9" r="4.2"/>
<circle cx="751.5" cy="1303.4" r="4.2"/>
<circle cx="752.7" cy="1305.1" r="4.2"/>
<circle cx="753.8" cy="1306.9" r="4.2"/>
<circle cx="757.3" cy="1327.9" r="4.2"/>
<circle cx="757.9" cy="1330.2" r="4.2"/>
<circle cx="758.5" cy="1332.5" r="4.2"/>
<circle cx="759.7" cy="1330.2" r="4.2"/>
<circle cx="760.8" cy="1327.9" r="4.2"/>
<circle cx="762.0" cy="1325.5" r="4.2"/>
<circle cx="763.2" cy="1323.6" r="4.2"/>
<circle cx="764.3" cy="1321.6" r="4.2"/>
<circle cx="765.5" cy="1319.7" r="4.2"/>
<circle cx="767.8" cy="1316.6" r="4.2"/>
<circle cx="769.8" cy="1313.1" r="4.2"/>
<circle cx="770.6" cy="1311.1" r="4.2"/>
<circle cx="771.3" cy="1309.2" r="4.2"/>
<circle cx="772.5" cy="1306.9" r="4.2"/>
<circle cx="773.7" cy="1304.5" r="4.2"/>
<circle cx="774.9" cy="1302.6" r="4.2"/>
<circle cx="776.0" cy="1300.6" r="4.2"/>
<circle cx="777.2" cy="1298.7" r="4.2"/>
<circle cx="779.5" cy="1297.7" r="4.2"/>
<circle cx="781.9" cy="1296.8" r="4.2"/>
<circle cx="783.6" cy="1296.6" r="4.2"/>
<circle cx="785.4" cy="1296.3" r="4.2"/>
<circle cx="823.9" cy="1372.9" r="4.2"/>
<circle cx="826.2" cy="1296.3" r="4.2"/>
<circle cx="856.6" cy="1296.3" r="4.2"/>
<circle cx="863.6" cy="1296.3" r="4.2"/>
<circle cx="864.8" cy="1298.1" r="4.2"/>
<circle cx="865.9" cy="1299.9" r="4.2"/>
<circle cx="867.1" cy="1301.6" r="4.2"/>
<circle cx="868.3" cy="1303.4" r="4.2"/>
<circle cx="870.1" cy="1321.3" r="4.2"/>
<circle cx="882.3" cy="1330.9" r="4.2"/>
<circle cx="879.9" cy="1339.6" r="4.2"/>
<circle cx="878.0" cy="1340.3" r="4.2"/>
<circle cx="876.1" cy="1341.1" r="4.2"/>
<circle cx="874.1" cy="1341.9" r="4.2"/>
<circle cx="874.9" cy="1343.8" r="4.2"/>
<circle cx="875.7" cy="1345.8" r="4.2"/>
<circle cx="876.4" cy="1347.7" r="4.2"/>
<circle cx="875.9" cy="1350.1" r="4.2"/>
<circle cx="875.3" cy="1352.4" r="4.2"/>
<circle cx="884.6" cy="1305.7" r="4.2"/>
<circle cx="885.4" cy="1303.7" r="4.2"/>
<circle cx="886.2" cy="1301.8" r="4.2"/>
<circle cx="887.0" cy="1299.9" r="4.2"/>
<circle cx="888.8" cy="1296.8" r="4.2"/>
<circle cx="1301.2" cy="1316.9" r="4.2"/>
<circle cx="1298.2" cy="1358.9" r="4.2"/>
<circle cx="1408.4" cy="1301.0" r="4.2"/>
<circle cx="1405.6" cy="1314.3" r="4.2"/>
<circle cx="1403.3" cy="1327.2" r="4.2"/>
<circle cx="1400.3" cy="1348.2" r="4.2"/>
<circle cx="1398.2" cy="1376.9" r="4.2"/>
<circle cx="1463.5" cy="1302.9" r="4.2"/>
<circle cx="1461.2" cy="1351.9" r="4.2"/>
<circle cx="1622.6" cy="1341.4" r="4.2"/>
<circle cx="1621.2" cy="1362.9" r="4.2"/>
<circle cx="1868.3" cy="1296.3" r="4.2"/>
</g>
<line x1="2020.5" y1="1294.8" x2="2020.5" y2="1710.8" stroke="#7050a0" stroke-width="2.6"/>
<g clip-path="url(#c3)" fill="none" stroke-linejoin="round">
<polyline points="155.5,1559.1 195.0,1559.1 253.4,1521.5 311.9,1533.4 370.3,1551.5 428.7,1474.6 487.1,1504.5 545.6,1390.7 604.0,1509.4 662.4,1558.1 720.9,1535.9 779.3,1541.2 837.7,1476.8 896.2,1542.2 954.6,1487.9 1013.0,1478.0 1071.5,1463.1 1129.9,1421.7 1188.3,1531.9 1246.7,1410.1 1305.2,1474.8 1363.6,1469.2 1422.0,1513.2 1480.5,1542.2 1538.9,1416.0 1597.3,1466.4 1655.8,1317.3 1714.2,1429.1 1772.6,1450.6 1831.0,1481.3 1889.5,1559.9 1947.9,1513.2 1992.0,1472.0 1994.5,1458.1 2020.5,1458.1" stroke="#f4f8fa" stroke-width="19"/>
<polyline points="155.5,1655.2 195.0,1655.2 253.4,1649.7 311.9,1676.7 370.3,1655.2 428.7,1618.7 487.1,1593.5 545.6,1545.0 604.0,1686.1 662.4,1645.9 720.9,1698.2 779.3,1703.8 837.7,1686.9 896.2,1680.5 954.6,1607.6 1013.0,1546.8 1071.5,1517.7 1129.9,1525.3 1188.3,1690.8 1246.7,1604.8 1305.2,1604.8 1363.6,1574.8 1422.0,1662.8 1480.5,1663.6 1538.9,1574.0 1597.3,1678.7 1655.8,1612.1 1714.2,1642.1 1772.6,1539.2 1831.0,1601.0 1889.5,1702.0 1947.9,1673.9 1992.0,1583.3 1994.5,1554.3 2020.5,1554.3" stroke="#f4f8fa" stroke-width="19"/>
<polyline points="155.5,1604.8 195.0,1604.8 253.4,1595.5 311.9,1595.5 370.3,1604.8 428.7,1563.6 487.1,1555.3 545.6,1484.6 604.0,1591.7 662.4,1601.0 720.9,1599.2 779.3,1604.8 837.7,1597.2 896.2,1603.8 954.6,1541.2 1013.0,1502.0 1071.5,1479.6 1129.9,1491.2 1188.3,1593.5 1246.7,1542.2 1305.2,1553.3 1363.6,1523.5 1422.0,1587.3 1480.5,1587.3 1538.9,1516.9 1597.3,1574.8 1655.8,1423.3 1714.2,1494.5 1772.6,1488.9 1831.0,1556.8 1889.5,1610.4 1947.9,1577.7 1992.0,1504.5 1994.5,1496.2 2020.5,1496.2" stroke="#f4f8fa" stroke-width="19"/>
<polyline points="155.5,1559.1 195.0,1559.1 253.4,1521.5 311.9,1533.4 370.3,1551.5 428.7,1474.6 487.1,1504.5 545.6,1390.7 604.0,1509.4 662.4,1558.1 720.9,1535.9 779.3,1541.2 837.7,1476.8 896.2,1542.2 954.6,1487.9 1013.0,1478.0 1071.5,1463.1 1129.9,1421.7 1188.3,1531.9 1246.7,1410.1 1305.2,1474.8 1363.6,1469.2 1422.0,1513.2 1480.5,1542.2 1538.9,1416.0 1597.3,1466.4 1655.8,1317.3 1714.2,1429.1 1772.6,1450.6 1831.0,1481.3 1889.5,1559.9 1947.9,1513.2 1992.0,1472.0 1994.5,1458.1 2020.5,1458.1" stroke="#3d7070" stroke-width="8"/>
<polyline points="155.5,1655.2 195.0,1655.2 253.4,1649.7 311.9,1676.7 370.3,1655.2 428.7,1618.7 487.1,1593.5 545.6,1545.0 604.0,1686.1 662.4,1645.9 720.9,1698.2 779.3,1703.8 837.7,1686.9 896.2,1680.5 954.6,1607.6 1013.0,1546.8 1071.5,1517.7 1129.9,1525.3 1188.3,1690.8 1246.7,1604.8 1305.2,1604.8 1363.6,1574.8 1422.0,1662.8 1480.5,1663.6 1538.9,1574.0 1597.3,1678.7 1655.8,1612.1 1714.2,1642.1 1772.6,1539.2 1831.0,1601.0 1889.5,1702.0 1947.9,1673.9 1992.0,1583.3 1994.5,1554.3 2020.5,1554.3" stroke="#3d7070" stroke-width="8"/>
<polyline points="155.5,1604.8 195.0,1604.8 253.4,1595.5 311.9,1595.5 370.3,1604.8 428.7,1563.6 487.1,1555.3 545.6,1484.6 604.0,1591.7 662.4,1601.0 720.9,1599.2 779.3,1604.8 837.7,1597.2 896.2,1603.8 954.6,1541.2 1013.0,1502.0 1071.5,1479.6 1129.9,1491.2 1188.3,1593.5 1246.7,1542.2 1305.2,1553.3 1363.6,1523.5 1422.0,1587.3 1480.5,1587.3 1538.9,1516.9 1597.3,1574.8 1655.8,1423.3 1714.2,1494.5 1772.6,1488.9 1831.0,1556.8 1889.5,1610.4 1947.9,1577.7 1992.0,1504.5 1994.5,1496.2 2020.5,1496.2" stroke="#3d7070" stroke-width="8" stroke-dasharray="8 6"/>
</g>
<line x1="193.5" y1="1379.0" x2="2020.5" y2="1379.0" stroke="#000" stroke-width="2" stroke-dasharray="6.5 6.5"/>
<line x1="193.5" y1="1461.0" x2="2020.5" y2="1461.0" stroke="#000" stroke-width="2" stroke-dasharray="6.5 6.5"/>
<line x1="193.5" y1="1544.0" x2="2020.5" y2="1544.0" stroke="#000" stroke-width="2" stroke-dasharray="6.5 6.5"/>
<line x1="193.5" y1="1627.0" x2="2020.5" y2="1627.0" stroke="#000" stroke-width="2" stroke-dasharray="6.5 6.5"/>
<line x1="193.5" y1="1710.0" x2="2020.5" y2="1710.0" stroke="#000" stroke-width="2" stroke-dasharray="6.5 6.5"/>
<line x1="155.5" y1="1295.8" x2="2020.5" y2="1295.8" stroke="#000" stroke-width="2.4"/>
<line x1="155.5" y1="1295.8" x2="193.5" y2="1295.8" stroke="#3d7070" stroke-width="2.4"/>
<line x1="202.6" y1="1295.8" x2="202.6" y2="1303.8" stroke="#000" stroke-width="3"/>
<line x1="260.9" y1="1295.8" x2="260.9" y2="1300.3" stroke="#000" stroke-width="3"/>
<line x1="319.3" y1="1295.8" x2="319.3" y2="1303.8" stroke="#000" stroke-width="3"/>
<line x1="377.6" y1="1295.8" x2="377.6" y2="1300.3" stroke="#000" stroke-width="3"/>
<line x1="435.9" y1="1295.8" x2="435.9" y2="1303.8" stroke="#000" stroke-width="3"/>
<line x1="494.3" y1="1295.8" x2="494.3" y2="1300.3" stroke="#000" stroke-width="3"/>
<line x1="552.6" y1="1295.8" x2="552.6" y2="1303.8" stroke="#000" stroke-width="3"/>
<line x1="611.0" y1="1295.8" x2="611.0" y2="1300.3" stroke="#000" stroke-width="3"/>
<line x1="669.3" y1="1295.8" x2="669.3" y2="1303.8" stroke="#000" stroke-width="3"/>
<line x1="727.6" y1="1295.8" x2="727.6" y2="1300.3" stroke="#000" stroke-width="3"/>
<line x1="786.0" y1="1295.8" x2="786.0" y2="1303.8" stroke="#000" stroke-width="3"/>
<line x1="844.3" y1="1295.8" x2="844.3" y2="1300.3" stroke="#000" stroke-width="3"/>
<line x1="902.6" y1="1295.8" x2="902.6" y2="1303.8" stroke="#000" stroke-width="3"/>
<line x1="961.0" y1="1295.8" x2="961.0" y2="1300.3" stroke="#000" stroke-width="3"/>
<line x1="1019.3" y1="1295.8" x2="1019.3" y2="1303.8" stroke="#000" stroke-width="3"/>
<line x1="1077.7" y1="1295.8" x2="1077.7" y2="1300.3" stroke="#000" stroke-width="3"/>
<line x1="1136.0" y1="1295.8" x2="1136.0" y2="1303.8" stroke="#000" stroke-width="3"/>
<line x1="1194.3" y1="1295.8" x2="1194.3" y2="1300.3" stroke="#000" stroke-width="3"/>
<line x1="1252.7" y1="1295.8" x2="1252.7" y2="1303.8" stroke="#000" stroke-width="3"/>
<line x1="1311.0" y1="1295.8" x2="1311.0" y2="1300.3" stroke="#000" stroke-width="3"/>
<line x1="1369.3" y1="1295.8" x2="1369.3" y2="1303.8" stroke="#000" stroke-width="3"/>
<line x1="1427.7" y1="1295.8" x2="1427.7" y2="1300.3" stroke="#000" stroke-width="3"/>
<line x1="1486.0" y1="1295.8" x2="1486.0" y2="1303.8" stroke="#000" stroke-width="3"/>
<line x1="1544.4" y1="1295.8" x2="1544.4" y2="1300.3" stroke="#000" stroke-width="3"/>
<line x1="1602.7" y1="1295.8" x2="1602.7" y2="1303.8" stroke="#000" stroke-width="3"/>
<line x1="1661.0" y1="1295.8" x2="1661.0" y2="1300.3" stroke="#000" stroke-width="3"/>
<line x1="1719.4" y1="1295.8" x2="1719.4" y2="1303.8" stroke="#000" stroke-width="3"/>
<line x1="1777.7" y1="1295.8" x2="1777.7" y2="1300.3" stroke="#000" stroke-width="3"/>
<line x1="1836.0" y1="1295.8" x2="1836.0" y2="1303.8" stroke="#000" stroke-width="3"/>
<line x1="1894.4" y1="1295.8" x2="1894.4" y2="1300.3" stroke="#000" stroke-width="3"/>
<line x1="1952.7" y1="1295.8" x2="1952.7" y2="1303.8" stroke="#000" stroke-width="3"/>
<line x1="2011.0" y1="1295.8" x2="2011.0" y2="1300.3" stroke="#000" stroke-width="3"/>
<line x1="155.5" y1="1710.0" x2="193.5" y2="1710.0" stroke="#3d7070" stroke-width="2"/>
<line x1="155.5" y1="1693.0" x2="174.5" y2="1693.0" stroke="#3d7070" stroke-width="2"/>
<line x1="174.5" y1="1693.0" x2="183.5" y2="1693.0" stroke="#000" stroke-width="2"/>
<line x1="155.5" y1="1676.5" x2="174.5" y2="1676.5" stroke="#3d7070" stroke-width="2"/>
<line x1="174.5" y1="1676.5" x2="183.5" y2="1676.5" stroke="#000" stroke-width="2"/>
<line x1="155.5" y1="1660.0" x2="174.5" y2="1660.0" stroke="#3d7070" stroke-width="2"/>
<line x1="174.5" y1="1660.0" x2="183.5" y2="1660.0" stroke="#000" stroke-width="2"/>
<line x1="155.5" y1="1643.5" x2="174.5" y2="1643.5" stroke="#3d7070" stroke-width="2"/>
<line x1="174.5" y1="1643.5" x2="183.5" y2="1643.5" stroke="#000" stroke-width="2"/>
<line x1="155.5" y1="1627.0" x2="193.5" y2="1627.0" stroke="#3d7070" stroke-width="2"/>
<line x1="155.5" y1="1610.5" x2="174.5" y2="1610.5" stroke="#3d7070" stroke-width="2"/>
<line x1="174.5" y1="1610.5" x2="183.5" y2="1610.5" stroke="#000" stroke-width="2"/>
<line x1="155.5" y1="1594.0" x2="174.5" y2="1594.0" stroke="#3d7070" stroke-width="2"/>
<line x1="174.5" y1="1594.0" x2="183.5" y2="1594.0" stroke="#000" stroke-width="2"/>
<line x1="155.5" y1="1577.5" x2="174.5" y2="1577.5" stroke="#3d7070" stroke-width="2"/>
<line x1="174.5" y1="1577.5" x2="183.5" y2="1577.5" stroke="#000" stroke-width="2"/>
<line x1="155.5" y1="1561.0" x2="174.5" y2="1561.0" stroke="#3d7070" stroke-width="2"/>
<line x1="174.5" y1="1561.0" x2="183.5" y2="1561.0" stroke="#000" stroke-width="2"/>
<line x1="155.5" y1="1544.0" x2="193.5" y2="1544.0" stroke="#3d7070" stroke-width="2"/>
<line x1="155.5" y1="1527.5" x2="174.5" y2="1527.5" stroke="#3d7070" stroke-width="2"/>
<line x1="174.5" y1="1527.5" x2="183.5" y2="1527.5" stroke="#000" stroke-width="2"/>
<line x1="155.5" y1="1511.0" x2="174.5" y2="1511.0" stroke="#3d7070" stroke-width="2"/>
<line x1="174.5" y1="1511.0" x2="183.5" y2="1511.0" stroke="#000" stroke-width="2"/>
<line x1="155.5" y1="1494.5" x2="174.5" y2="1494.5" stroke="#3d7070" stroke-width="2"/>
<line x1="174.5" y1="1494.5" x2="183.5" y2="1494.5" stroke="#000" stroke-width="2"/>
<line x1="155.5" y1="1478.0" x2="174.5" y2="1478.0" stroke="#3d7070" stroke-width="2"/>
<line x1="174.5" y1="1478.0" x2="183.5" y2="1478.0" stroke="#000" stroke-width="2"/>
<line x1="155.5" y1="1461.5" x2="193.5" y2="1461.5" stroke="#3d7070" stroke-width="2"/>
<line x1="155.5" y1="1445.0" x2="174.5" y2="1445.0" stroke="#3d7070" stroke-width="2"/>
<line x1="174.5" y1="1445.0" x2="183.5" y2="1445.0" stroke="#000" stroke-width="2"/>
<line x1="155.5" y1="1428.5" x2="174.5" y2="1428.5" stroke="#3d7070" stroke-width="2"/>
<line x1="174.5" y1="1428.5" x2="183.5" y2="1428.5" stroke="#000" stroke-width="2"/>
<line x1="155.5" y1="1411.5" x2="174.5" y2="1411.5" stroke="#3d7070" stroke-width="2"/>
<line x1="174.5" y1="1411.5" x2="183.5" y2="1411.5" stroke="#000" stroke-width="2"/>
<line x1="155.5" y1="1395.0" x2="174.5" y2="1395.0" stroke="#3d7070" stroke-width="2"/>
<line x1="174.5" y1="1395.0" x2="183.5" y2="1395.0" stroke="#000" stroke-width="2"/>
<line x1="155.5" y1="1378.5" x2="193.5" y2="1378.5" stroke="#3d7070" stroke-width="2"/>
<line x1="155.5" y1="1362.0" x2="174.5" y2="1362.0" stroke="#3d7070" stroke-width="2"/>
<line x1="174.5" y1="1362.0" x2="183.5" y2="1362.0" stroke="#000" stroke-width="2"/>
<line x1="155.5" y1="1345.5" x2="174.5" y2="1345.5" stroke="#3d7070" stroke-width="2"/>
<line x1="174.5" y1="1345.5" x2="183.5" y2="1345.5" stroke="#000" stroke-width="2"/>
<line x1="155.5" y1="1329.0" x2="174.5" y2="1329.0" stroke="#3d7070" stroke-width="2"/>
<line x1="174.5" y1="1329.0" x2="183.5" y2="1329.0" stroke="#000" stroke-width="2"/>
<line x1="155.5" y1="1312.5" x2="174.5" y2="1312.5" stroke="#3d7070" stroke-width="2"/>
<line x1="174.5" y1="1312.5" x2="183.5" y2="1312.5" stroke="#000" stroke-width="2"/>
<line x1="156.3" y1="1294.8" x2="156.3" y2="1710.8" stroke="#3d7070" stroke-width="3"/>
<text transform="translate(143.6 1320.2) scale(1.1250 1)" x="-33.37 -16.68" y="0" font-size="30.09" fill="#3d7070" stroke="#3d7070" stroke-width="0.3" xml:space="preserve">25</text>
<text transform="translate(143.6 1393.3) scale(1.1250 1)" x="-33.37 -16.68" y="0" font-size="30.09" fill="#3d7070" stroke="#3d7070" stroke-width="0.3" xml:space="preserve">20</text>
<text transform="translate(143.6 1476.3) scale(1.1250 1)" x="-33.37 -16.68" y="0" font-size="30.09" fill="#3d7070" stroke="#3d7070" stroke-width="0.3" xml:space="preserve">15</text>
<text transform="translate(143.6 1558.6) scale(1.1250 1)" x="-33.37 -16.68" y="0" font-size="30.09" fill="#3d7070" stroke="#3d7070" stroke-width="0.3" xml:space="preserve">10</text>
<text transform="translate(143.6 1641.5) scale(1.1250 1)" x="-16.68" y="0" font-size="30.09" fill="#3d7070" stroke="#3d7070" stroke-width="0.3" xml:space="preserve">5</text>
<text transform="translate(143.6 1709.5) scale(1.1250 1)" x="-16.68" y="0" font-size="30.09" fill="#3d7070" stroke="#3d7070" stroke-width="0.3" xml:space="preserve">0</text>
<text transform="translate(2034.0 1319.6) scale(1.1253 1)" x="0.00 16.96 33.92" y="0" font-size="30.60" fill="#7050a0" stroke="#7050a0" stroke-width="0.3" xml:space="preserve">360</text>
<text transform="translate(2034.0 1412.7) scale(1.1253 1)" x="0.00 16.96 33.92" y="0" font-size="30.60" fill="#7050a0" stroke="#7050a0" stroke-width="0.3" xml:space="preserve">270</text>
<text transform="translate(2034.0 1516.4) scale(1.1253 1)" x="0.00 16.96 33.92" y="0" font-size="30.60" fill="#7050a0" stroke="#7050a0" stroke-width="0.3" xml:space="preserve">180</text>
<text transform="translate(2034.0 1619.2) scale(1.1253 1)" x="0.00 16.96" y="0" font-size="30.60" fill="#7050a0" stroke="#7050a0" stroke-width="0.3" xml:space="preserve">90</text>
<text transform="translate(2034.0 1708.9) scale(1.1253 1)" x="0.00" y="0" font-size="30.60" fill="#7050a0" stroke="#7050a0" stroke-width="0.3" xml:space="preserve">0</text>
<text transform="translate(68.0 1503.0) rotate(-90) scale(1.1085 1)" x="-170.87 -147.65 -132.26 -114.49 -96.73 -79.25 -62.42 -46.75 -29.84 -21.06 -4.30 14.38 30.12 47.90 65.73 74.91 85.99 102.68 130.46 139.73 157.98" y="0" font-size="32.71" fill="#3d7070" stroke="#3d7070" stroke-width="0.3" xml:space="preserve">Скорость ветра (km/h)</text>
<text transform="translate(2132.5 1512.7) rotate(-90) scale(1.0961 1)" x="-150.63 -128.24 -109.74 -91.40 -73.42 -55.69 -38.83 -20.31 -1.95 16.74 35.02 53.03 61.95 78.91 97.78 113.72 131.70" y="0" font-size="32.71" fill="#7050a0" stroke="#7050a0" stroke-width="0.3" xml:space="preserve">Направление ветра</text>
<circle cx="2108.7" cy="1334.3" r="4.3" fill="none" stroke="#7050a0" stroke-width="2" shape-rendering="geometricPrecision"/>
<path d="M2183.5 1246.1999999999998 H2188.7 V1274.3 H2195.4 L2188.7 1297.6 H2183.5 L2176.7999999999997 1274.3 H2183.5 Z" fill="#7050a0" shape-rendering="geometricPrecision"/>
<path d="M2155.0 1396.9 V1402.1 H2195.8 V1408.8 L2219.1 1402.1 V1396.9 L2195.8 1390.2 V1396.9 Z" fill="#7050a0" shape-rendering="geometricPrecision"/>
<path d="M2183.6 1554.2 H2188.7999999999997 V1526.5 H2195.5 L2188.7999999999997 1503.2 H2183.6 L2176.8999999999996 1526.5 H2183.6 Z" fill="#7050a0" shape-rendering="geometricPrecision"/>
<path d="M2218.9 1603.4 V1608.6 H2177.2 V1615.3 L2153.9 1608.6 V1603.4 L2177.2 1596.7 V1603.4 Z" fill="#7050a0" shape-rendering="geometricPrecision"/>
<path d="M2183.6 1658.8999999999999 H2188.7999999999997 V1687.0 H2195.5 L2188.7999999999997 1710.3 H2183.6 L2176.8999999999996 1687.0 H2183.6 Z" fill="#7050a0" shape-rendering="geometricPrecision"/>
</svg>
</body></html>
